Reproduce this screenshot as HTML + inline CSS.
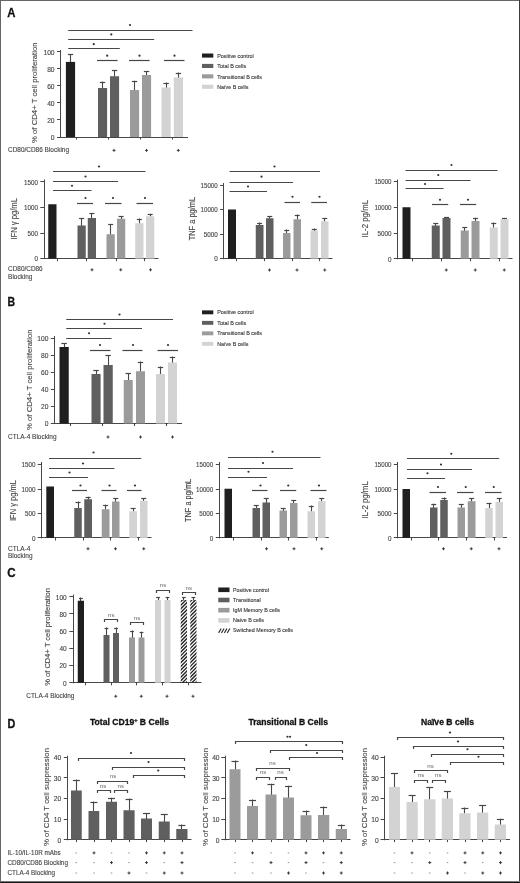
<!DOCTYPE html>
<html><head><meta charset="utf-8"><title>Figure</title>
<style>html,body{margin:0;padding:0;background:#fff}svg{display:block;filter:grayscale(1) blur(0.3px)}text{font-family:"Liberation Sans",sans-serif;stroke:#444;stroke-width:0.12px;paint-order:stroke}text.t{stroke:none}text.b{stroke:#111;stroke-width:0.3px}</style></head>
<body>
<svg width="520" height="883" viewBox="0 0 520 883" font-family="Liberation Sans, sans-serif">
<rect x="0" y="0" width="520" height="883" fill="#fff"/>
<text x="7.2" y="17.1" font-size="12.2" text-anchor="start" fill="#111" textLength="8.2" lengthAdjust="spacingAndGlyphs" font-weight="bold" class="b">A</text>
<line x1="60.5" y1="50" x2="60.5" y2="137.5" stroke="#474747" stroke-width="1" stroke-linecap="butt"/>
<line x1="60.25" y1="137.5" x2="188" y2="137.5" stroke="#474747" stroke-width="1" stroke-linecap="butt"/>
<line x1="57.05" y1="51.5" x2="60.75" y2="51.5" stroke="#474747" stroke-width="1" stroke-linecap="butt"/>
<text x="54.6" y="54.61" font-size="6.7" text-anchor="end" fill="#444444">100</text>
<line x1="57.05" y1="68.5" x2="60.75" y2="68.5" stroke="#474747" stroke-width="1" stroke-linecap="butt"/>
<text x="54.6" y="71.66" font-size="6.7" text-anchor="end" fill="#444444">80</text>
<line x1="57.05" y1="85.5" x2="60.75" y2="85.5" stroke="#474747" stroke-width="1" stroke-linecap="butt"/>
<text x="54.6" y="88.71" font-size="6.7" text-anchor="end" fill="#444444">60</text>
<line x1="57.05" y1="102.5" x2="60.75" y2="102.5" stroke="#474747" stroke-width="1" stroke-linecap="butt"/>
<text x="54.6" y="105.76" font-size="6.7" text-anchor="end" fill="#444444">40</text>
<line x1="57.05" y1="119.5" x2="60.75" y2="119.5" stroke="#474747" stroke-width="1" stroke-linecap="butt"/>
<text x="54.6" y="122.81" font-size="6.7" text-anchor="end" fill="#444444">20</text>
<line x1="57.05" y1="137.5" x2="60.75" y2="137.5" stroke="#474747" stroke-width="1" stroke-linecap="butt"/>
<text x="54.6" y="139.86" font-size="6.7" text-anchor="end" fill="#444444">0</text>
<line x1="76.5" y1="137" x2="76.5" y2="139.6" stroke="#474747" stroke-width="1" stroke-linecap="butt"/>
<line x1="108.5" y1="137" x2="108.5" y2="139.6" stroke="#474747" stroke-width="1" stroke-linecap="butt"/>
<line x1="140.5" y1="137" x2="140.5" y2="139.6" stroke="#474747" stroke-width="1" stroke-linecap="butt"/>
<line x1="172.5" y1="137" x2="172.5" y2="139.6" stroke="#474747" stroke-width="1" stroke-linecap="butt"/>
<line x1="70.5" y1="54.3" x2="70.5" y2="62.4" stroke="#474747" stroke-width="1.1" stroke-linecap="butt"/>
<line x1="67.8" y1="54.5" x2="73.2" y2="54.5" stroke="#474747" stroke-width="1.2" stroke-linecap="butt"/>
<rect x="65.9" y="61.9" width="9.2" height="75.1" fill="#1f1f1f"/>
<line x1="102.5" y1="81.5" x2="102.5" y2="88.5" stroke="#474747" stroke-width="1.1" stroke-linecap="butt"/>
<line x1="99.85" y1="82.5" x2="105.25" y2="82.5" stroke="#474747" stroke-width="1.2" stroke-linecap="butt"/>
<rect x="98" y="88" width="9.1" height="49" fill="#5f5f5f"/>
<line x1="114.5" y1="70" x2="114.5" y2="76.75" stroke="#474747" stroke-width="1.1" stroke-linecap="butt"/>
<line x1="111.85" y1="70.5" x2="117.25" y2="70.5" stroke="#474747" stroke-width="1.2" stroke-linecap="butt"/>
<rect x="110" y="76.25" width="9.1" height="60.75" fill="#5f5f5f"/>
<line x1="134.5" y1="80.75" x2="134.5" y2="90.5" stroke="#474747" stroke-width="1.1" stroke-linecap="butt"/>
<line x1="131.85" y1="81.5" x2="137.25" y2="81.5" stroke="#474747" stroke-width="1.2" stroke-linecap="butt"/>
<rect x="130" y="90" width="9.1" height="47" fill="#9b9b9b"/>
<line x1="146.5" y1="71.25" x2="146.5" y2="75.5" stroke="#474747" stroke-width="1.1" stroke-linecap="butt"/>
<line x1="143.85" y1="71.5" x2="149.25" y2="71.5" stroke="#474747" stroke-width="1.2" stroke-linecap="butt"/>
<rect x="142" y="75" width="9.1" height="62" fill="#9b9b9b"/>
<line x1="166.5" y1="82.5" x2="166.5" y2="88" stroke="#474747" stroke-width="1.1" stroke-linecap="butt"/>
<line x1="163.4" y1="83.5" x2="168.8" y2="83.5" stroke="#474747" stroke-width="1.2" stroke-linecap="butt"/>
<rect x="161.5" y="87.5" width="9.2" height="49.5" fill="#d3d3d3"/>
<line x1="178.5" y1="72.5" x2="178.5" y2="78" stroke="#474747" stroke-width="1.1" stroke-linecap="butt"/>
<line x1="175.7" y1="73.5" x2="181.1" y2="73.5" stroke="#474747" stroke-width="1.2" stroke-linecap="butt"/>
<rect x="173.8" y="77.5" width="9.2" height="59.5" fill="#d3d3d3"/>
<line x1="68.2" y1="30.5" x2="192.5" y2="30.5" stroke="#474747" stroke-width="1.2" stroke-linecap="butt"/>
<circle cx="130" cy="25" r="1.1" fill="#333"/>
<line x1="68.2" y1="39.5" x2="154.2" y2="39.5" stroke="#474747" stroke-width="1.2" stroke-linecap="butt"/>
<circle cx="111.3" cy="34.4" r="1.1" fill="#333"/>
<line x1="68.2" y1="48.5" x2="119.8" y2="48.5" stroke="#474747" stroke-width="1.2" stroke-linecap="butt"/>
<circle cx="93.8" cy="44.2" r="1.1" fill="#333"/>
<line x1="97" y1="60.5" x2="117.6" y2="60.5" stroke="#474747" stroke-width="1.2" stroke-linecap="butt"/>
<circle cx="107.2" cy="55.7" r="1.1" fill="#333"/>
<line x1="129" y1="60.5" x2="149.6" y2="60.5" stroke="#474747" stroke-width="1.2" stroke-linecap="butt"/>
<circle cx="139.5" cy="55.7" r="1.1" fill="#333"/>
<line x1="164" y1="60.5" x2="184.5" y2="60.5" stroke="#474747" stroke-width="1.2" stroke-linecap="butt"/>
<circle cx="174.5" cy="55.7" r="1.1" fill="#333"/>
<text transform="translate(37.3,92.7) rotate(-90)" font-size="7.8" text-anchor="middle" fill="#444444" textLength="100.5" lengthAdjust="spacingAndGlyphs">% of CD4+ T cell proliferation</text>
<text x="8" y="151.8" font-size="6.4" text-anchor="start" fill="#444444" textLength="61" lengthAdjust="spacingAndGlyphs">CD80/CD86 Blocking</text>
<line x1="112.5" y1="150.4" x2="115.5" y2="150.4" stroke="#333" stroke-width="0.94" stroke-linecap="butt"/>
<line x1="114" y1="148.9" x2="114" y2="151.9" stroke="#333" stroke-width="0.94" stroke-linecap="butt"/>
<line x1="145" y1="150.4" x2="148" y2="150.4" stroke="#333" stroke-width="0.94" stroke-linecap="butt"/>
<line x1="146.5" y1="148.9" x2="146.5" y2="151.9" stroke="#333" stroke-width="0.94" stroke-linecap="butt"/>
<line x1="176.8" y1="150.4" x2="179.8" y2="150.4" stroke="#333" stroke-width="0.94" stroke-linecap="butt"/>
<line x1="178.3" y1="148.9" x2="178.3" y2="151.9" stroke="#333" stroke-width="0.94" stroke-linecap="butt"/>
<rect x="202" y="53.5" width="11.3" height="4.1" fill="#1f1f1f"/>
<text x="217.2" y="57.7" font-size="5.7" text-anchor="start" fill="#333" textLength="36.6" lengthAdjust="spacingAndGlyphs">Positive control</text>
<rect x="202" y="63.9" width="11.3" height="4.1" fill="#5f5f5f"/>
<text x="217.2" y="68.1" font-size="5.7" text-anchor="start" fill="#333" textLength="29" lengthAdjust="spacingAndGlyphs">Total B cells</text>
<rect x="202" y="74.3" width="11.3" height="4.1" fill="#9b9b9b"/>
<text x="217.2" y="78.5" font-size="5.7" text-anchor="start" fill="#333" textLength="44.8" lengthAdjust="spacingAndGlyphs">Transitional B cells</text>
<rect x="202" y="84.7" width="11.3" height="4.1" fill="#d3d3d3"/>
<text x="217.2" y="88.9" font-size="5.7" text-anchor="start" fill="#333" textLength="31.2" lengthAdjust="spacingAndGlyphs">Naïve B cells</text>
<line x1="44.5" y1="179.5" x2="44.5" y2="259.1" stroke="#474747" stroke-width="1" stroke-linecap="butt"/>
<line x1="43.5" y1="258.5" x2="158.5" y2="258.5" stroke="#474747" stroke-width="1" stroke-linecap="butt"/>
<line x1="40.3" y1="181.5" x2="44" y2="181.5" stroke="#474747" stroke-width="1" stroke-linecap="butt"/>
<text x="38" y="184.58" font-size="6.6" text-anchor="end" fill="#444444" textLength="14" lengthAdjust="spacingAndGlyphs">1500</text>
<line x1="40.3" y1="207.5" x2="44" y2="207.5" stroke="#474747" stroke-width="1" stroke-linecap="butt"/>
<text x="38" y="210.23" font-size="6.6" text-anchor="end" fill="#444444" textLength="14" lengthAdjust="spacingAndGlyphs">1000</text>
<line x1="40.3" y1="233.5" x2="44" y2="233.5" stroke="#474747" stroke-width="1" stroke-linecap="butt"/>
<text x="38" y="235.83" font-size="6.6" text-anchor="end" fill="#444444" textLength="10.5" lengthAdjust="spacingAndGlyphs">500</text>
<line x1="40.3" y1="258.5" x2="44" y2="258.5" stroke="#474747" stroke-width="1" stroke-linecap="butt"/>
<text x="38" y="261.43" font-size="6.6" text-anchor="end" fill="#444444" textLength="3.5" lengthAdjust="spacingAndGlyphs">0</text>
<line x1="57.5" y1="258.6" x2="57.5" y2="261.2" stroke="#474747" stroke-width="1" stroke-linecap="butt"/>
<line x1="86.5" y1="258.6" x2="86.5" y2="261.2" stroke="#474747" stroke-width="1" stroke-linecap="butt"/>
<line x1="116.5" y1="258.6" x2="116.5" y2="261.2" stroke="#474747" stroke-width="1" stroke-linecap="butt"/>
<line x1="144.5" y1="258.6" x2="144.5" y2="261.2" stroke="#474747" stroke-width="1" stroke-linecap="butt"/>
<rect x="48.25" y="204.25" width="8.25" height="54.35" fill="#1f1f1f"/>
<line x1="81.5" y1="218.25" x2="81.5" y2="226" stroke="#474747" stroke-width="1.1" stroke-linecap="butt"/>
<line x1="79.12" y1="218.5" x2="84.12" y2="218.5" stroke="#474747" stroke-width="1.2" stroke-linecap="butt"/>
<rect x="77.5" y="225.5" width="8.25" height="33.1" fill="#5f5f5f"/>
<line x1="91.5" y1="213.25" x2="91.5" y2="218.5" stroke="#474747" stroke-width="1.1" stroke-linecap="butt"/>
<line x1="89.38" y1="213.5" x2="94.38" y2="213.5" stroke="#474747" stroke-width="1.2" stroke-linecap="butt"/>
<rect x="87.75" y="218" width="8.25" height="40.6" fill="#5f5f5f"/>
<line x1="110.5" y1="224" x2="110.5" y2="234.75" stroke="#474747" stroke-width="1.1" stroke-linecap="butt"/>
<line x1="108.12" y1="224.5" x2="113.12" y2="224.5" stroke="#474747" stroke-width="1.2" stroke-linecap="butt"/>
<rect x="106.5" y="234.25" width="8.25" height="24.35" fill="#9b9b9b"/>
<line x1="121.5" y1="216.25" x2="121.5" y2="219.25" stroke="#474747" stroke-width="1.1" stroke-linecap="butt"/>
<line x1="118.62" y1="216.5" x2="123.62" y2="216.5" stroke="#474747" stroke-width="1.2" stroke-linecap="butt"/>
<rect x="117" y="218.75" width="8.25" height="39.85" fill="#9b9b9b"/>
<line x1="139.5" y1="218.5" x2="139.5" y2="223.75" stroke="#474747" stroke-width="1.1" stroke-linecap="butt"/>
<line x1="136.85" y1="219.5" x2="141.85" y2="219.5" stroke="#474747" stroke-width="1.2" stroke-linecap="butt"/>
<rect x="135.2" y="223.25" width="8.3" height="35.35" fill="#d3d3d3"/>
<line x1="150.5" y1="213.75" x2="150.5" y2="216.75" stroke="#474747" stroke-width="1.1" stroke-linecap="butt"/>
<line x1="147.65" y1="214.5" x2="152.65" y2="214.5" stroke="#474747" stroke-width="1.2" stroke-linecap="butt"/>
<rect x="146" y="216.25" width="8.3" height="42.35" fill="#d3d3d3"/>
<text transform="translate(16.9,218.8) rotate(-90)" font-size="8.3" text-anchor="middle" fill="#444444" textLength="41.5" lengthAdjust="spacingAndGlyphs">IFN γ pg/mL</text>
<line x1="53" y1="171.5" x2="145.5" y2="171.5" stroke="#474747" stroke-width="1.2" stroke-linecap="butt"/>
<circle cx="99" cy="166.5" r="1.1" fill="#333"/>
<line x1="53" y1="181.5" x2="118" y2="181.5" stroke="#474747" stroke-width="1.2" stroke-linecap="butt"/>
<circle cx="85.5" cy="176.5" r="1.1" fill="#333"/>
<line x1="53" y1="190.5" x2="91.5" y2="190.5" stroke="#474747" stroke-width="1.2" stroke-linecap="butt"/>
<circle cx="72" cy="185.75" r="1.1" fill="#333"/>
<line x1="77" y1="203.5" x2="93" y2="203.5" stroke="#474747" stroke-width="1.2" stroke-linecap="butt"/>
<circle cx="85.5" cy="198" r="1.1" fill="#333"/>
<line x1="105" y1="203.5" x2="121.5" y2="203.5" stroke="#474747" stroke-width="1.2" stroke-linecap="butt"/>
<circle cx="113" cy="198" r="1.1" fill="#333"/>
<line x1="136.5" y1="203.5" x2="153" y2="203.5" stroke="#474747" stroke-width="1.2" stroke-linecap="butt"/>
<circle cx="145" cy="198" r="1.1" fill="#333"/>
<text x="8.1" y="271" font-size="6.5" text-anchor="start" fill="#444444" textLength="34.6" lengthAdjust="spacingAndGlyphs">CD80/CD86</text>
<text x="8.1" y="278.9" font-size="6.5" text-anchor="start" fill="#444444" textLength="24.3" lengthAdjust="spacingAndGlyphs">Blocking</text>
<line x1="90.5" y1="269.8" x2="93.5" y2="269.8" stroke="#333" stroke-width="0.94" stroke-linecap="butt"/>
<line x1="92" y1="268.3" x2="92" y2="271.3" stroke="#333" stroke-width="0.94" stroke-linecap="butt"/>
<line x1="119.25" y1="269.8" x2="122.25" y2="269.8" stroke="#333" stroke-width="0.94" stroke-linecap="butt"/>
<line x1="120.75" y1="268.3" x2="120.75" y2="271.3" stroke="#333" stroke-width="0.94" stroke-linecap="butt"/>
<line x1="149" y1="269.8" x2="152" y2="269.8" stroke="#333" stroke-width="0.94" stroke-linecap="butt"/>
<line x1="150.5" y1="268.3" x2="150.5" y2="271.3" stroke="#333" stroke-width="0.94" stroke-linecap="butt"/>
<line x1="223.5" y1="183" x2="223.5" y2="259.1" stroke="#474747" stroke-width="1" stroke-linecap="butt"/>
<line x1="223.25" y1="258.5" x2="332.5" y2="258.5" stroke="#474747" stroke-width="1" stroke-linecap="butt"/>
<line x1="220.05" y1="185.5" x2="223.75" y2="185.5" stroke="#474747" stroke-width="1" stroke-linecap="butt"/>
<text x="217.7" y="187.83" font-size="6.6" text-anchor="end" fill="#444444" textLength="17.1" lengthAdjust="spacingAndGlyphs">15000</text>
<line x1="220.05" y1="209.5" x2="223.75" y2="209.5" stroke="#474747" stroke-width="1" stroke-linecap="butt"/>
<text x="217.7" y="212.38" font-size="6.6" text-anchor="end" fill="#444444" textLength="17.1" lengthAdjust="spacingAndGlyphs">10000</text>
<line x1="220.05" y1="234.5" x2="223.75" y2="234.5" stroke="#474747" stroke-width="1" stroke-linecap="butt"/>
<text x="217.7" y="236.93" font-size="6.6" text-anchor="end" fill="#444444" textLength="14" lengthAdjust="spacingAndGlyphs">5000</text>
<line x1="220.05" y1="258.5" x2="223.75" y2="258.5" stroke="#474747" stroke-width="1" stroke-linecap="butt"/>
<text x="217.7" y="261.43" font-size="6.6" text-anchor="end" fill="#444444" textLength="3.5" lengthAdjust="spacingAndGlyphs">0</text>
<line x1="236.5" y1="258.6" x2="236.5" y2="261.2" stroke="#474747" stroke-width="1" stroke-linecap="butt"/>
<line x1="264.5" y1="258.6" x2="264.5" y2="261.2" stroke="#474747" stroke-width="1" stroke-linecap="butt"/>
<line x1="292.5" y1="258.6" x2="292.5" y2="261.2" stroke="#474747" stroke-width="1" stroke-linecap="butt"/>
<line x1="319.5" y1="258.6" x2="319.5" y2="261.2" stroke="#474747" stroke-width="1" stroke-linecap="butt"/>
<rect x="228" y="209.5" width="8" height="49.1" fill="#1f1f1f"/>
<line x1="259.5" y1="222.5" x2="259.5" y2="225.5" stroke="#474747" stroke-width="1.1" stroke-linecap="butt"/>
<line x1="257.12" y1="223.5" x2="262.12" y2="223.5" stroke="#474747" stroke-width="1.2" stroke-linecap="butt"/>
<rect x="255.75" y="225" width="7.75" height="33.6" fill="#5f5f5f"/>
<line x1="269.5" y1="216.25" x2="269.5" y2="218.75" stroke="#474747" stroke-width="1.1" stroke-linecap="butt"/>
<line x1="267.25" y1="216.5" x2="272.25" y2="216.5" stroke="#474747" stroke-width="1.2" stroke-linecap="butt"/>
<rect x="266" y="218.25" width="7.5" height="40.35" fill="#5f5f5f"/>
<line x1="286.5" y1="229.5" x2="286.5" y2="233.5" stroke="#474747" stroke-width="1.1" stroke-linecap="butt"/>
<line x1="284.25" y1="230.5" x2="289.25" y2="230.5" stroke="#474747" stroke-width="1.2" stroke-linecap="butt"/>
<rect x="283" y="233" width="7.5" height="25.6" fill="#9b9b9b"/>
<line x1="297.5" y1="214.5" x2="297.5" y2="219.75" stroke="#474747" stroke-width="1.1" stroke-linecap="butt"/>
<line x1="294.75" y1="215.5" x2="299.75" y2="215.5" stroke="#474747" stroke-width="1.2" stroke-linecap="butt"/>
<rect x="293.5" y="219.25" width="7.5" height="39.35" fill="#9b9b9b"/>
<line x1="314.5" y1="228.5" x2="314.5" y2="231.25" stroke="#474747" stroke-width="1.1" stroke-linecap="butt"/>
<line x1="311.75" y1="229.5" x2="316.75" y2="229.5" stroke="#474747" stroke-width="1.2" stroke-linecap="butt"/>
<rect x="310.5" y="230.75" width="7.5" height="27.85" fill="#d3d3d3"/>
<line x1="324.5" y1="218.25" x2="324.5" y2="221.75" stroke="#474747" stroke-width="1.1" stroke-linecap="butt"/>
<line x1="322.25" y1="218.5" x2="327.25" y2="218.5" stroke="#474747" stroke-width="1.2" stroke-linecap="butt"/>
<rect x="321" y="221.25" width="7.5" height="37.35" fill="#d3d3d3"/>
<text transform="translate(194.5,218.6) rotate(-90)" font-size="8.3" text-anchor="middle" fill="#444444" textLength="43.4" lengthAdjust="spacingAndGlyphs">TNF a pg/mL</text>
<line x1="229.5" y1="171.5" x2="320" y2="171.5" stroke="#474747" stroke-width="1.2" stroke-linecap="butt"/>
<circle cx="274.5" cy="166.5" r="1.1" fill="#333"/>
<line x1="229.5" y1="182.5" x2="293" y2="182.5" stroke="#474747" stroke-width="1.2" stroke-linecap="butt"/>
<circle cx="261.5" cy="176.7" r="1.1" fill="#333"/>
<line x1="229.5" y1="191.5" x2="267" y2="191.5" stroke="#474747" stroke-width="1.2" stroke-linecap="butt"/>
<circle cx="248" cy="186.5" r="1.1" fill="#333"/>
<line x1="284.5" y1="202.5" x2="300" y2="202.5" stroke="#474747" stroke-width="1.2" stroke-linecap="butt"/>
<circle cx="292.5" cy="196.75" r="1.1" fill="#333"/>
<line x1="311.25" y1="202.5" x2="327" y2="202.5" stroke="#474747" stroke-width="1.2" stroke-linecap="butt"/>
<circle cx="319.5" cy="196.75" r="1.1" fill="#333"/>
<line x1="268" y1="270" x2="271" y2="270" stroke="#333" stroke-width="0.94" stroke-linecap="butt"/>
<line x1="269.5" y1="268.5" x2="269.5" y2="271.5" stroke="#333" stroke-width="0.94" stroke-linecap="butt"/>
<line x1="295.5" y1="270" x2="298.5" y2="270" stroke="#333" stroke-width="0.94" stroke-linecap="butt"/>
<line x1="297" y1="268.5" x2="297" y2="271.5" stroke="#333" stroke-width="0.94" stroke-linecap="butt"/>
<line x1="323.25" y1="270" x2="326.25" y2="270" stroke="#333" stroke-width="0.94" stroke-linecap="butt"/>
<line x1="324.75" y1="268.5" x2="324.75" y2="271.5" stroke="#333" stroke-width="0.94" stroke-linecap="butt"/>
<line x1="397.5" y1="179.5" x2="397.5" y2="259.25" stroke="#474747" stroke-width="1" stroke-linecap="butt"/>
<line x1="397" y1="258.5" x2="512.5" y2="258.5" stroke="#474747" stroke-width="1" stroke-linecap="butt"/>
<line x1="393.8" y1="181.5" x2="397.5" y2="181.5" stroke="#474747" stroke-width="1" stroke-linecap="butt"/>
<text x="391.5" y="184.33" font-size="6.6" text-anchor="end" fill="#444444" textLength="17.1" lengthAdjust="spacingAndGlyphs">15000</text>
<line x1="393.8" y1="207.5" x2="397.5" y2="207.5" stroke="#474747" stroke-width="1" stroke-linecap="butt"/>
<text x="391.5" y="210.08" font-size="6.6" text-anchor="end" fill="#444444" textLength="17.1" lengthAdjust="spacingAndGlyphs">10000</text>
<line x1="393.8" y1="233.5" x2="397.5" y2="233.5" stroke="#474747" stroke-width="1" stroke-linecap="butt"/>
<text x="391.5" y="235.83" font-size="6.6" text-anchor="end" fill="#444444" textLength="14" lengthAdjust="spacingAndGlyphs">5000</text>
<line x1="393.8" y1="258.5" x2="397.5" y2="258.5" stroke="#474747" stroke-width="1" stroke-linecap="butt"/>
<text x="391.5" y="261.58" font-size="6.6" text-anchor="end" fill="#444444" textLength="3.5" lengthAdjust="spacingAndGlyphs">0</text>
<line x1="412.5" y1="258.75" x2="412.5" y2="261.35" stroke="#474747" stroke-width="1" stroke-linecap="butt"/>
<line x1="441.5" y1="258.75" x2="441.5" y2="261.35" stroke="#474747" stroke-width="1" stroke-linecap="butt"/>
<line x1="470.5" y1="258.75" x2="470.5" y2="261.35" stroke="#474747" stroke-width="1" stroke-linecap="butt"/>
<line x1="499.5" y1="258.75" x2="499.5" y2="261.35" stroke="#474747" stroke-width="1" stroke-linecap="butt"/>
<rect x="402.5" y="207.25" width="8" height="51.5" fill="#1f1f1f"/>
<line x1="435.5" y1="223" x2="435.5" y2="226" stroke="#474747" stroke-width="1.1" stroke-linecap="butt"/>
<line x1="433.25" y1="223.5" x2="438.25" y2="223.5" stroke="#474747" stroke-width="1.2" stroke-linecap="butt"/>
<rect x="431.75" y="225.5" width="8" height="33.25" fill="#5f5f5f"/>
<line x1="446.5" y1="217.3" x2="446.5" y2="218.5" stroke="#474747" stroke-width="1.1" stroke-linecap="butt"/>
<line x1="444" y1="217.5" x2="449" y2="217.5" stroke="#474747" stroke-width="1.2" stroke-linecap="butt"/>
<rect x="442.5" y="218" width="8" height="40.75" fill="#5f5f5f"/>
<line x1="464.5" y1="227.25" x2="464.5" y2="231" stroke="#474747" stroke-width="1.1" stroke-linecap="butt"/>
<line x1="462.25" y1="227.5" x2="467.25" y2="227.5" stroke="#474747" stroke-width="1.2" stroke-linecap="butt"/>
<rect x="460.75" y="230.5" width="8" height="28.25" fill="#9b9b9b"/>
<line x1="475.5" y1="217.75" x2="475.5" y2="221.5" stroke="#474747" stroke-width="1.1" stroke-linecap="butt"/>
<line x1="473" y1="218.5" x2="478" y2="218.5" stroke="#474747" stroke-width="1.2" stroke-linecap="butt"/>
<rect x="471.5" y="221" width="8" height="37.75" fill="#9b9b9b"/>
<line x1="493.5" y1="222.5" x2="493.5" y2="228" stroke="#474747" stroke-width="1.1" stroke-linecap="butt"/>
<line x1="491.25" y1="223.5" x2="496.25" y2="223.5" stroke="#474747" stroke-width="1.2" stroke-linecap="butt"/>
<rect x="489.75" y="227.5" width="8" height="31.25" fill="#d3d3d3"/>
<line x1="504.5" y1="218.25" x2="504.5" y2="219.75" stroke="#474747" stroke-width="1.1" stroke-linecap="butt"/>
<line x1="502" y1="218.5" x2="507" y2="218.5" stroke="#474747" stroke-width="1.2" stroke-linecap="butt"/>
<rect x="500.5" y="219.25" width="8" height="39.5" fill="#d3d3d3"/>
<text transform="translate(368,218.7) rotate(-90)" font-size="8.3" text-anchor="middle" fill="#444444" textLength="37.5" lengthAdjust="spacingAndGlyphs">IL-2 pg/mL</text>
<line x1="405.5" y1="170.5" x2="497.5" y2="170.5" stroke="#474747" stroke-width="1.2" stroke-linecap="butt"/>
<circle cx="451.5" cy="165" r="1.1" fill="#333"/>
<line x1="405.5" y1="180.5" x2="470.5" y2="180.5" stroke="#474747" stroke-width="1.2" stroke-linecap="butt"/>
<circle cx="438.25" cy="175" r="1.1" fill="#333"/>
<line x1="405.5" y1="188.5" x2="443.5" y2="188.5" stroke="#474747" stroke-width="1.2" stroke-linecap="butt"/>
<circle cx="425" cy="184" r="1.1" fill="#333"/>
<line x1="432" y1="204.5" x2="448.25" y2="204.5" stroke="#474747" stroke-width="1.2" stroke-linecap="butt"/>
<circle cx="440" cy="199.75" r="1.1" fill="#333"/>
<line x1="460" y1="204.5" x2="476.25" y2="204.5" stroke="#474747" stroke-width="1.2" stroke-linecap="butt"/>
<circle cx="468" cy="199.75" r="1.1" fill="#333"/>
<line x1="444.75" y1="270" x2="447.75" y2="270" stroke="#333" stroke-width="0.94" stroke-linecap="butt"/>
<line x1="446.25" y1="268.5" x2="446.25" y2="271.5" stroke="#333" stroke-width="0.94" stroke-linecap="butt"/>
<line x1="473.75" y1="270" x2="476.75" y2="270" stroke="#333" stroke-width="0.94" stroke-linecap="butt"/>
<line x1="475.25" y1="268.5" x2="475.25" y2="271.5" stroke="#333" stroke-width="0.94" stroke-linecap="butt"/>
<line x1="502.75" y1="270" x2="505.75" y2="270" stroke="#333" stroke-width="0.94" stroke-linecap="butt"/>
<line x1="504.25" y1="268.5" x2="504.25" y2="271.5" stroke="#333" stroke-width="0.94" stroke-linecap="butt"/>
<text x="7.6" y="306" font-size="12.2" text-anchor="start" fill="#111" textLength="7.6" lengthAdjust="spacingAndGlyphs" font-weight="bold" class="b">B</text>
<line x1="54.5" y1="336" x2="54.5" y2="424" stroke="#474747" stroke-width="1" stroke-linecap="butt"/>
<line x1="54" y1="423.5" x2="182" y2="423.5" stroke="#474747" stroke-width="1" stroke-linecap="butt"/>
<line x1="50.8" y1="338.5" x2="54.5" y2="338.5" stroke="#474747" stroke-width="1" stroke-linecap="butt"/>
<text x="48.5" y="340.86" font-size="6.7" text-anchor="end" fill="#444444">100</text>
<line x1="50.8" y1="355.5" x2="54.5" y2="355.5" stroke="#474747" stroke-width="1" stroke-linecap="butt"/>
<text x="48.5" y="357.96" font-size="6.7" text-anchor="end" fill="#444444">80</text>
<line x1="50.8" y1="372.5" x2="54.5" y2="372.5" stroke="#474747" stroke-width="1" stroke-linecap="butt"/>
<text x="48.5" y="375.06" font-size="6.7" text-anchor="end" fill="#444444">60</text>
<line x1="50.8" y1="389.5" x2="54.5" y2="389.5" stroke="#474747" stroke-width="1" stroke-linecap="butt"/>
<text x="48.5" y="392.16" font-size="6.7" text-anchor="end" fill="#444444">40</text>
<line x1="50.8" y1="406.5" x2="54.5" y2="406.5" stroke="#474747" stroke-width="1" stroke-linecap="butt"/>
<text x="48.5" y="409.26" font-size="6.7" text-anchor="end" fill="#444444">20</text>
<line x1="50.8" y1="423.5" x2="54.5" y2="423.5" stroke="#474747" stroke-width="1" stroke-linecap="butt"/>
<text x="48.5" y="426.36" font-size="6.7" text-anchor="end" fill="#444444">0</text>
<line x1="70.5" y1="423.5" x2="70.5" y2="426.1" stroke="#474747" stroke-width="1" stroke-linecap="butt"/>
<line x1="102.5" y1="423.5" x2="102.5" y2="426.1" stroke="#474747" stroke-width="1" stroke-linecap="butt"/>
<line x1="134.5" y1="423.5" x2="134.5" y2="426.1" stroke="#474747" stroke-width="1" stroke-linecap="butt"/>
<line x1="166.5" y1="423.5" x2="166.5" y2="426.1" stroke="#474747" stroke-width="1" stroke-linecap="butt"/>
<line x1="64.5" y1="343.25" x2="64.5" y2="347.5" stroke="#474747" stroke-width="1.1" stroke-linecap="butt"/>
<line x1="61.42" y1="343.5" x2="66.83" y2="343.5" stroke="#474747" stroke-width="1.2" stroke-linecap="butt"/>
<rect x="59.5" y="347" width="9.25" height="76.5" fill="#1f1f1f"/>
<line x1="96.5" y1="370.25" x2="96.5" y2="374.5" stroke="#474747" stroke-width="1.1" stroke-linecap="butt"/>
<line x1="93.35" y1="370.5" x2="98.75" y2="370.5" stroke="#474747" stroke-width="1.2" stroke-linecap="butt"/>
<rect x="91.5" y="374" width="9.1" height="49.5" fill="#5f5f5f"/>
<line x1="108.5" y1="355.25" x2="108.5" y2="365.5" stroke="#474747" stroke-width="1.1" stroke-linecap="butt"/>
<line x1="105.42" y1="355.5" x2="110.83" y2="355.5" stroke="#474747" stroke-width="1.2" stroke-linecap="butt"/>
<rect x="103.5" y="365" width="9.25" height="58.5" fill="#5f5f5f"/>
<line x1="128.5" y1="373.25" x2="128.5" y2="380.5" stroke="#474747" stroke-width="1.1" stroke-linecap="butt"/>
<line x1="125.55" y1="373.5" x2="130.95" y2="373.5" stroke="#474747" stroke-width="1.2" stroke-linecap="butt"/>
<rect x="123.75" y="380" width="9" height="43.5" fill="#9b9b9b"/>
<line x1="140.5" y1="361.5" x2="140.5" y2="371.75" stroke="#474747" stroke-width="1.1" stroke-linecap="butt"/>
<line x1="137.8" y1="362.5" x2="143.2" y2="362.5" stroke="#474747" stroke-width="1.2" stroke-linecap="butt"/>
<rect x="136" y="371.25" width="9" height="52.25" fill="#9b9b9b"/>
<line x1="160.5" y1="366.5" x2="160.5" y2="374.5" stroke="#474747" stroke-width="1.1" stroke-linecap="butt"/>
<line x1="157.8" y1="367.5" x2="163.2" y2="367.5" stroke="#474747" stroke-width="1.2" stroke-linecap="butt"/>
<rect x="156" y="374" width="9" height="49.5" fill="#d3d3d3"/>
<line x1="172.5" y1="356.5" x2="172.5" y2="363" stroke="#474747" stroke-width="1.1" stroke-linecap="butt"/>
<line x1="169.8" y1="357.5" x2="175.2" y2="357.5" stroke="#474747" stroke-width="1.2" stroke-linecap="butt"/>
<rect x="168" y="362.5" width="9" height="61" fill="#d3d3d3"/>
<line x1="66.25" y1="319.5" x2="173" y2="319.5" stroke="#474747" stroke-width="1.2" stroke-linecap="butt"/>
<circle cx="119.5" cy="314.5" r="1.1" fill="#333"/>
<line x1="66.25" y1="328.5" x2="142" y2="328.5" stroke="#474747" stroke-width="1.2" stroke-linecap="butt"/>
<circle cx="104.5" cy="323.75" r="1.1" fill="#333"/>
<line x1="66.25" y1="338.5" x2="111.5" y2="338.5" stroke="#474747" stroke-width="1.2" stroke-linecap="butt"/>
<circle cx="89" cy="333.25" r="1.1" fill="#333"/>
<line x1="90" y1="350.5" x2="110.5" y2="350.5" stroke="#474747" stroke-width="1.2" stroke-linecap="butt"/>
<circle cx="100" cy="345" r="1.1" fill="#333"/>
<line x1="122.5" y1="350.5" x2="142.5" y2="350.5" stroke="#474747" stroke-width="1.2" stroke-linecap="butt"/>
<circle cx="133" cy="345" r="1.1" fill="#333"/>
<line x1="157.5" y1="350.5" x2="178" y2="350.5" stroke="#474747" stroke-width="1.2" stroke-linecap="butt"/>
<circle cx="168" cy="345" r="1.1" fill="#333"/>
<text transform="translate(31.8,379.7) rotate(-90)" font-size="7.8" text-anchor="middle" fill="#444444" textLength="100.5" lengthAdjust="spacingAndGlyphs">% of CD4+ T cell proliferation</text>
<text x="8" y="438.6" font-size="6.4" text-anchor="start" fill="#444444" textLength="48.5" lengthAdjust="spacingAndGlyphs">CTLA-4 Blocking</text>
<line x1="106.5" y1="437" x2="109.5" y2="437" stroke="#333" stroke-width="0.94" stroke-linecap="butt"/>
<line x1="108" y1="435.5" x2="108" y2="438.5" stroke="#333" stroke-width="0.94" stroke-linecap="butt"/>
<line x1="139" y1="437" x2="142" y2="437" stroke="#333" stroke-width="0.94" stroke-linecap="butt"/>
<line x1="140.5" y1="435.5" x2="140.5" y2="438.5" stroke="#333" stroke-width="0.94" stroke-linecap="butt"/>
<line x1="171" y1="437" x2="174" y2="437" stroke="#333" stroke-width="0.94" stroke-linecap="butt"/>
<line x1="172.5" y1="435.5" x2="172.5" y2="438.5" stroke="#333" stroke-width="0.94" stroke-linecap="butt"/>
<rect x="202" y="310.4" width="11.3" height="3.9" fill="#1f1f1f"/>
<text x="217.2" y="314.4" font-size="5.7" text-anchor="start" fill="#333" textLength="36.6" lengthAdjust="spacingAndGlyphs">Positive control</text>
<rect x="202" y="320.9" width="11.3" height="3.9" fill="#5f5f5f"/>
<text x="217.2" y="324.9" font-size="5.7" text-anchor="start" fill="#333" textLength="29" lengthAdjust="spacingAndGlyphs">Total B cells</text>
<rect x="202" y="331.4" width="11.3" height="3.9" fill="#9b9b9b"/>
<text x="217.2" y="335.4" font-size="5.7" text-anchor="start" fill="#333" textLength="44.8" lengthAdjust="spacingAndGlyphs">Transitional B cells</text>
<rect x="202" y="341.9" width="11.3" height="3.9" fill="#d3d3d3"/>
<text x="217.2" y="345.9" font-size="5.7" text-anchor="start" fill="#333" textLength="31.2" lengthAdjust="spacingAndGlyphs">Naïve B cells</text>
<line x1="41.5" y1="462" x2="41.5" y2="538.4" stroke="#474747" stroke-width="1" stroke-linecap="butt"/>
<line x1="40.9" y1="537.5" x2="151.5" y2="537.5" stroke="#474747" stroke-width="1" stroke-linecap="butt"/>
<line x1="37.7" y1="464.5" x2="41.4" y2="464.5" stroke="#474747" stroke-width="1" stroke-linecap="butt"/>
<text x="35.6" y="467.33" font-size="6.6" text-anchor="end" fill="#444444" textLength="14" lengthAdjust="spacingAndGlyphs">1500</text>
<line x1="37.7" y1="489.5" x2="41.4" y2="489.5" stroke="#474747" stroke-width="1" stroke-linecap="butt"/>
<text x="35.6" y="491.83" font-size="6.6" text-anchor="end" fill="#444444" textLength="14" lengthAdjust="spacingAndGlyphs">1000</text>
<line x1="37.7" y1="513.5" x2="41.4" y2="513.5" stroke="#474747" stroke-width="1" stroke-linecap="butt"/>
<text x="35.6" y="516.33" font-size="6.6" text-anchor="end" fill="#444444" textLength="10.5" lengthAdjust="spacingAndGlyphs">500</text>
<line x1="37.7" y1="537.5" x2="41.4" y2="537.5" stroke="#474747" stroke-width="1" stroke-linecap="butt"/>
<text x="35.6" y="540.73" font-size="6.6" text-anchor="end" fill="#444444" textLength="3.5" lengthAdjust="spacingAndGlyphs">0</text>
<line x1="55.5" y1="537.9" x2="55.5" y2="540.5" stroke="#474747" stroke-width="1" stroke-linecap="butt"/>
<line x1="83.5" y1="537.9" x2="83.5" y2="540.5" stroke="#474747" stroke-width="1" stroke-linecap="butt"/>
<line x1="110.5" y1="537.9" x2="110.5" y2="540.5" stroke="#474747" stroke-width="1" stroke-linecap="butt"/>
<line x1="138.5" y1="537.9" x2="138.5" y2="540.5" stroke="#474747" stroke-width="1" stroke-linecap="butt"/>
<rect x="46.3" y="486.5" width="7.7" height="51.4" fill="#1f1f1f"/>
<line x1="78.5" y1="501.5" x2="78.5" y2="508.5" stroke="#474747" stroke-width="1.1" stroke-linecap="butt"/>
<line x1="75.5" y1="502.5" x2="80.5" y2="502.5" stroke="#474747" stroke-width="1.2" stroke-linecap="butt"/>
<rect x="74.25" y="508" width="7.5" height="29.9" fill="#5f5f5f"/>
<line x1="88.5" y1="496.75" x2="88.5" y2="499.75" stroke="#474747" stroke-width="1.1" stroke-linecap="butt"/>
<line x1="85.62" y1="497.5" x2="90.62" y2="497.5" stroke="#474747" stroke-width="1.2" stroke-linecap="butt"/>
<rect x="84.25" y="499.25" width="7.75" height="38.65" fill="#5f5f5f"/>
<line x1="105.5" y1="504.75" x2="105.5" y2="509.75" stroke="#474747" stroke-width="1.1" stroke-linecap="butt"/>
<line x1="103.12" y1="505.5" x2="108.12" y2="505.5" stroke="#474747" stroke-width="1.2" stroke-linecap="butt"/>
<rect x="101.75" y="509.25" width="7.75" height="28.65" fill="#9b9b9b"/>
<line x1="115.5" y1="498.25" x2="115.5" y2="502" stroke="#474747" stroke-width="1.1" stroke-linecap="butt"/>
<line x1="113.25" y1="498.5" x2="118.25" y2="498.5" stroke="#474747" stroke-width="1.2" stroke-linecap="butt"/>
<rect x="112" y="501.5" width="7.5" height="36.4" fill="#9b9b9b"/>
<line x1="133.5" y1="508" x2="133.5" y2="511.75" stroke="#474747" stroke-width="1.1" stroke-linecap="butt"/>
<line x1="130.62" y1="508.5" x2="135.62" y2="508.5" stroke="#474747" stroke-width="1.2" stroke-linecap="butt"/>
<rect x="129.25" y="511.25" width="7.75" height="26.65" fill="#d3d3d3"/>
<line x1="143.5" y1="498.25" x2="143.5" y2="501.25" stroke="#474747" stroke-width="1.1" stroke-linecap="butt"/>
<line x1="141.25" y1="498.5" x2="146.25" y2="498.5" stroke="#474747" stroke-width="1.2" stroke-linecap="butt"/>
<rect x="140" y="500.75" width="7.5" height="37.15" fill="#d3d3d3"/>
<text transform="translate(16.25,500.5) rotate(-90)" font-size="8.3" text-anchor="middle" fill="#444444" textLength="41" lengthAdjust="spacingAndGlyphs">IFN γ pg/mL</text>
<line x1="49" y1="458.5" x2="141.25" y2="458.5" stroke="#474747" stroke-width="1.2" stroke-linecap="butt"/>
<circle cx="93.5" cy="452.5" r="1.1" fill="#333"/>
<line x1="49" y1="468.5" x2="114.5" y2="468.5" stroke="#474747" stroke-width="1.2" stroke-linecap="butt"/>
<circle cx="83" cy="463.5" r="1.1" fill="#333"/>
<line x1="49" y1="477.5" x2="88" y2="477.5" stroke="#474747" stroke-width="1.2" stroke-linecap="butt"/>
<circle cx="69.5" cy="472.5" r="1.1" fill="#333"/>
<line x1="72" y1="490.5" x2="87" y2="490.5" stroke="#474747" stroke-width="1.2" stroke-linecap="butt"/>
<circle cx="80.5" cy="485.5" r="1.1" fill="#333"/>
<line x1="101.5" y1="490.5" x2="116.5" y2="490.5" stroke="#474747" stroke-width="1.2" stroke-linecap="butt"/>
<circle cx="109.5" cy="485.5" r="1.1" fill="#333"/>
<line x1="127" y1="490.5" x2="141.5" y2="490.5" stroke="#474747" stroke-width="1.2" stroke-linecap="butt"/>
<circle cx="135" cy="485.5" r="1.1" fill="#333"/>
<text x="8" y="550.6" font-size="6.6" text-anchor="start" fill="#444444" textLength="22.5" lengthAdjust="spacingAndGlyphs">CTLA-4</text>
<text x="8" y="558.3" font-size="6.6" text-anchor="start" fill="#444444" textLength="24.5" lengthAdjust="spacingAndGlyphs">Blocking</text>
<line x1="86.5" y1="548.75" x2="89.5" y2="548.75" stroke="#333" stroke-width="0.94" stroke-linecap="butt"/>
<line x1="88" y1="547.25" x2="88" y2="550.25" stroke="#333" stroke-width="0.94" stroke-linecap="butt"/>
<line x1="114" y1="548.75" x2="117" y2="548.75" stroke="#333" stroke-width="0.94" stroke-linecap="butt"/>
<line x1="115.5" y1="547.25" x2="115.5" y2="550.25" stroke="#333" stroke-width="0.94" stroke-linecap="butt"/>
<line x1="142.25" y1="548.75" x2="145.25" y2="548.75" stroke="#333" stroke-width="0.94" stroke-linecap="butt"/>
<line x1="143.75" y1="547.25" x2="143.75" y2="550.25" stroke="#333" stroke-width="0.94" stroke-linecap="butt"/>
<line x1="219.5" y1="462" x2="219.5" y2="538.4" stroke="#474747" stroke-width="1" stroke-linecap="butt"/>
<line x1="219" y1="537.5" x2="328.75" y2="537.5" stroke="#474747" stroke-width="1" stroke-linecap="butt"/>
<line x1="215.8" y1="464.5" x2="219.5" y2="464.5" stroke="#474747" stroke-width="1" stroke-linecap="butt"/>
<text x="213.2" y="467.33" font-size="6.6" text-anchor="end" fill="#444444" textLength="17.1" lengthAdjust="spacingAndGlyphs">15000</text>
<line x1="215.8" y1="489.5" x2="219.5" y2="489.5" stroke="#474747" stroke-width="1" stroke-linecap="butt"/>
<text x="213.2" y="491.83" font-size="6.6" text-anchor="end" fill="#444444" textLength="17.1" lengthAdjust="spacingAndGlyphs">10000</text>
<line x1="215.8" y1="513.5" x2="219.5" y2="513.5" stroke="#474747" stroke-width="1" stroke-linecap="butt"/>
<text x="213.2" y="516.33" font-size="6.6" text-anchor="end" fill="#444444" textLength="14" lengthAdjust="spacingAndGlyphs">5000</text>
<line x1="215.8" y1="537.5" x2="219.5" y2="537.5" stroke="#474747" stroke-width="1" stroke-linecap="butt"/>
<text x="213.2" y="540.73" font-size="6.6" text-anchor="end" fill="#444444" textLength="3.5" lengthAdjust="spacingAndGlyphs">0</text>
<line x1="233.5" y1="537.9" x2="233.5" y2="540.5" stroke="#474747" stroke-width="1" stroke-linecap="butt"/>
<line x1="261.5" y1="537.9" x2="261.5" y2="540.5" stroke="#474747" stroke-width="1" stroke-linecap="butt"/>
<line x1="288.5" y1="537.9" x2="288.5" y2="540.5" stroke="#474747" stroke-width="1" stroke-linecap="butt"/>
<line x1="316.5" y1="537.9" x2="316.5" y2="540.5" stroke="#474747" stroke-width="1" stroke-linecap="butt"/>
<rect x="224.5" y="488.75" width="7.5" height="49.15" fill="#1f1f1f"/>
<line x1="256.5" y1="505" x2="256.5" y2="508.5" stroke="#474747" stroke-width="1.1" stroke-linecap="butt"/>
<line x1="253.75" y1="505.5" x2="258.75" y2="505.5" stroke="#474747" stroke-width="1.2" stroke-linecap="butt"/>
<rect x="252.5" y="508" width="7.5" height="29.9" fill="#5f5f5f"/>
<line x1="266.5" y1="498" x2="266.5" y2="503" stroke="#474747" stroke-width="1.1" stroke-linecap="butt"/>
<line x1="263.75" y1="498.5" x2="268.75" y2="498.5" stroke="#474747" stroke-width="1.2" stroke-linecap="butt"/>
<rect x="262.5" y="502.5" width="7.5" height="35.4" fill="#5f5f5f"/>
<line x1="283.5" y1="508" x2="283.5" y2="511" stroke="#474747" stroke-width="1.1" stroke-linecap="butt"/>
<line x1="280.75" y1="508.5" x2="285.75" y2="508.5" stroke="#474747" stroke-width="1.2" stroke-linecap="butt"/>
<rect x="279.5" y="510.5" width="7.5" height="27.4" fill="#9b9b9b"/>
<line x1="293.5" y1="500" x2="293.5" y2="503.5" stroke="#474747" stroke-width="1.1" stroke-linecap="butt"/>
<line x1="291.25" y1="500.5" x2="296.25" y2="500.5" stroke="#474747" stroke-width="1.2" stroke-linecap="butt"/>
<rect x="290" y="503" width="7.5" height="34.9" fill="#9b9b9b"/>
<line x1="311.5" y1="505.5" x2="311.5" y2="511.75" stroke="#474747" stroke-width="1.1" stroke-linecap="butt"/>
<line x1="308.75" y1="506.5" x2="313.75" y2="506.5" stroke="#474747" stroke-width="1.2" stroke-linecap="butt"/>
<rect x="307.5" y="511.25" width="7.5" height="26.65" fill="#d3d3d3"/>
<line x1="321.5" y1="498.25" x2="321.5" y2="501.75" stroke="#474747" stroke-width="1.1" stroke-linecap="butt"/>
<line x1="319.25" y1="498.5" x2="324.25" y2="498.5" stroke="#474747" stroke-width="1.2" stroke-linecap="butt"/>
<rect x="318" y="501.25" width="7.5" height="36.65" fill="#d3d3d3"/>
<text transform="translate(190.5,500.4) rotate(-90)" font-size="8.3" text-anchor="middle" fill="#444444" textLength="43.2" lengthAdjust="spacingAndGlyphs">TNF a pg/mL</text>
<line x1="228" y1="457.5" x2="320.5" y2="457.5" stroke="#474747" stroke-width="1.2" stroke-linecap="butt"/>
<circle cx="272.5" cy="451.75" r="1.1" fill="#333"/>
<line x1="228" y1="468.5" x2="293" y2="468.5" stroke="#474747" stroke-width="1.2" stroke-linecap="butt"/>
<circle cx="263" cy="463" r="1.1" fill="#333"/>
<line x1="228" y1="477.5" x2="267" y2="477.5" stroke="#474747" stroke-width="1.2" stroke-linecap="butt"/>
<circle cx="248.5" cy="471.75" r="1.1" fill="#333"/>
<line x1="252" y1="490.5" x2="267.5" y2="490.5" stroke="#474747" stroke-width="1.2" stroke-linecap="butt"/>
<circle cx="260.5" cy="485.5" r="1.1" fill="#333"/>
<line x1="280" y1="490.5" x2="296.25" y2="490.5" stroke="#474747" stroke-width="1.2" stroke-linecap="butt"/>
<circle cx="288.25" cy="485.5" r="1.1" fill="#333"/>
<line x1="310.5" y1="490.5" x2="326.5" y2="490.5" stroke="#474747" stroke-width="1.2" stroke-linecap="butt"/>
<circle cx="319" cy="485.5" r="1.1" fill="#333"/>
<line x1="265" y1="548.75" x2="268" y2="548.75" stroke="#333" stroke-width="0.94" stroke-linecap="butt"/>
<line x1="266.5" y1="547.25" x2="266.5" y2="550.25" stroke="#333" stroke-width="0.94" stroke-linecap="butt"/>
<line x1="292.5" y1="548.75" x2="295.5" y2="548.75" stroke="#333" stroke-width="0.94" stroke-linecap="butt"/>
<line x1="294" y1="547.25" x2="294" y2="550.25" stroke="#333" stroke-width="0.94" stroke-linecap="butt"/>
<line x1="320.25" y1="548.75" x2="323.25" y2="548.75" stroke="#333" stroke-width="0.94" stroke-linecap="butt"/>
<line x1="321.75" y1="547.25" x2="321.75" y2="550.25" stroke="#333" stroke-width="0.94" stroke-linecap="butt"/>
<line x1="397.5" y1="462" x2="397.5" y2="538.4" stroke="#474747" stroke-width="1" stroke-linecap="butt"/>
<line x1="397" y1="537.5" x2="507" y2="537.5" stroke="#474747" stroke-width="1" stroke-linecap="butt"/>
<line x1="393.8" y1="464.5" x2="397.5" y2="464.5" stroke="#474747" stroke-width="1" stroke-linecap="butt"/>
<text x="391.5" y="467.08" font-size="6.6" text-anchor="end" fill="#444444" textLength="17.1" lengthAdjust="spacingAndGlyphs">15000</text>
<line x1="393.8" y1="489.5" x2="397.5" y2="489.5" stroke="#474747" stroke-width="1" stroke-linecap="butt"/>
<text x="391.5" y="491.83" font-size="6.6" text-anchor="end" fill="#444444" textLength="17.1" lengthAdjust="spacingAndGlyphs">10000</text>
<line x1="393.8" y1="513.5" x2="397.5" y2="513.5" stroke="#474747" stroke-width="1" stroke-linecap="butt"/>
<text x="391.5" y="516.33" font-size="6.6" text-anchor="end" fill="#444444" textLength="14" lengthAdjust="spacingAndGlyphs">5000</text>
<line x1="393.8" y1="537.5" x2="397.5" y2="537.5" stroke="#474747" stroke-width="1" stroke-linecap="butt"/>
<text x="391.5" y="540.73" font-size="6.6" text-anchor="end" fill="#444444" textLength="3.5" lengthAdjust="spacingAndGlyphs">0</text>
<line x1="411.5" y1="537.9" x2="411.5" y2="540.5" stroke="#474747" stroke-width="1" stroke-linecap="butt"/>
<line x1="438.5" y1="537.9" x2="438.5" y2="540.5" stroke="#474747" stroke-width="1" stroke-linecap="butt"/>
<line x1="466.5" y1="537.9" x2="466.5" y2="540.5" stroke="#474747" stroke-width="1" stroke-linecap="butt"/>
<line x1="494.5" y1="537.9" x2="494.5" y2="540.5" stroke="#474747" stroke-width="1" stroke-linecap="butt"/>
<rect x="402.5" y="489" width="7.5" height="48.9" fill="#1f1f1f"/>
<line x1="433.5" y1="503.75" x2="433.5" y2="508" stroke="#474747" stroke-width="1.1" stroke-linecap="butt"/>
<line x1="431.25" y1="504.5" x2="436.25" y2="504.5" stroke="#474747" stroke-width="1.2" stroke-linecap="butt"/>
<rect x="430" y="507.5" width="7.5" height="30.4" fill="#5f5f5f"/>
<line x1="444.5" y1="497.5" x2="444.5" y2="500.5" stroke="#474747" stroke-width="1.1" stroke-linecap="butt"/>
<line x1="441.5" y1="498.5" x2="446.5" y2="498.5" stroke="#474747" stroke-width="1.2" stroke-linecap="butt"/>
<rect x="440.25" y="500" width="7.5" height="37.9" fill="#5f5f5f"/>
<line x1="461.5" y1="504.25" x2="461.5" y2="508" stroke="#474747" stroke-width="1.1" stroke-linecap="butt"/>
<line x1="458.75" y1="504.5" x2="463.75" y2="504.5" stroke="#474747" stroke-width="1.2" stroke-linecap="butt"/>
<rect x="457.5" y="507.5" width="7.5" height="30.4" fill="#9b9b9b"/>
<line x1="471.5" y1="498.25" x2="471.5" y2="501.75" stroke="#474747" stroke-width="1.1" stroke-linecap="butt"/>
<line x1="469.12" y1="498.5" x2="474.12" y2="498.5" stroke="#474747" stroke-width="1.2" stroke-linecap="butt"/>
<rect x="467.75" y="501.25" width="7.75" height="36.65" fill="#9b9b9b"/>
<line x1="489.5" y1="503" x2="489.5" y2="508.5" stroke="#474747" stroke-width="1.1" stroke-linecap="butt"/>
<line x1="486.5" y1="503.5" x2="491.5" y2="503.5" stroke="#474747" stroke-width="1.2" stroke-linecap="butt"/>
<rect x="485.25" y="508" width="7.5" height="29.9" fill="#d3d3d3"/>
<line x1="499.5" y1="498.25" x2="499.5" y2="502.5" stroke="#474747" stroke-width="1.1" stroke-linecap="butt"/>
<line x1="496.75" y1="498.5" x2="501.75" y2="498.5" stroke="#474747" stroke-width="1.2" stroke-linecap="butt"/>
<rect x="495.5" y="502" width="7.5" height="35.9" fill="#d3d3d3"/>
<text transform="translate(368,500) rotate(-90)" font-size="8.3" text-anchor="middle" fill="#444444" textLength="37.5" lengthAdjust="spacingAndGlyphs">IL-2 pg/mL</text>
<line x1="407" y1="458.5" x2="499.25" y2="458.5" stroke="#474747" stroke-width="1.2" stroke-linecap="butt"/>
<circle cx="451.25" cy="453.75" r="1.1" fill="#333"/>
<line x1="407" y1="469.5" x2="472" y2="469.5" stroke="#474747" stroke-width="1.2" stroke-linecap="butt"/>
<circle cx="441" cy="464.5" r="1.1" fill="#333"/>
<line x1="407" y1="478.5" x2="445" y2="478.5" stroke="#474747" stroke-width="1.2" stroke-linecap="butt"/>
<circle cx="427.5" cy="473.25" r="1.1" fill="#333"/>
<line x1="429.5" y1="492.5" x2="446" y2="492.5" stroke="#474747" stroke-width="1.2" stroke-linecap="butt"/>
<circle cx="438" cy="487" r="1.1" fill="#333"/>
<line x1="457" y1="492.5" x2="473.5" y2="492.5" stroke="#474747" stroke-width="1.2" stroke-linecap="butt"/>
<circle cx="465.75" cy="487" r="1.1" fill="#333"/>
<line x1="485" y1="492.5" x2="501.5" y2="492.5" stroke="#474747" stroke-width="1.2" stroke-linecap="butt"/>
<circle cx="493.75" cy="487" r="1.1" fill="#333"/>
<line x1="442" y1="548.75" x2="445" y2="548.75" stroke="#333" stroke-width="0.94" stroke-linecap="butt"/>
<line x1="443.5" y1="547.25" x2="443.5" y2="550.25" stroke="#333" stroke-width="0.94" stroke-linecap="butt"/>
<line x1="469.75" y1="548.75" x2="472.75" y2="548.75" stroke="#333" stroke-width="0.94" stroke-linecap="butt"/>
<line x1="471.25" y1="547.25" x2="471.25" y2="550.25" stroke="#333" stroke-width="0.94" stroke-linecap="butt"/>
<line x1="497.5" y1="548.75" x2="500.5" y2="548.75" stroke="#333" stroke-width="0.94" stroke-linecap="butt"/>
<line x1="499" y1="547.25" x2="499" y2="550.25" stroke="#333" stroke-width="0.94" stroke-linecap="butt"/>
<text x="7.3" y="577.1" font-size="12.2" text-anchor="start" fill="#111" textLength="8.4" lengthAdjust="spacingAndGlyphs" font-weight="bold" class="b">C</text>
<line x1="73.5" y1="594.5" x2="73.5" y2="683.25" stroke="#474747" stroke-width="1" stroke-linecap="butt"/>
<line x1="72.5" y1="682.5" x2="201.5" y2="682.5" stroke="#474747" stroke-width="1" stroke-linecap="butt"/>
<line x1="69.3" y1="596.5" x2="73" y2="596.5" stroke="#474747" stroke-width="1" stroke-linecap="butt"/>
<text x="66.7" y="599.54" font-size="6.5" text-anchor="end" fill="#444444">100</text>
<line x1="69.3" y1="613.5" x2="73" y2="613.5" stroke="#474747" stroke-width="1" stroke-linecap="butt"/>
<text x="66.7" y="616.74" font-size="6.5" text-anchor="end" fill="#444444">80</text>
<line x1="69.3" y1="631.5" x2="73" y2="631.5" stroke="#474747" stroke-width="1" stroke-linecap="butt"/>
<text x="66.7" y="633.94" font-size="6.5" text-anchor="end" fill="#444444">60</text>
<line x1="69.3" y1="648.5" x2="73" y2="648.5" stroke="#474747" stroke-width="1" stroke-linecap="butt"/>
<text x="66.7" y="651.14" font-size="6.5" text-anchor="end" fill="#444444">40</text>
<line x1="69.3" y1="665.5" x2="73" y2="665.5" stroke="#474747" stroke-width="1" stroke-linecap="butt"/>
<text x="66.7" y="668.34" font-size="6.5" text-anchor="end" fill="#444444">20</text>
<line x1="69.3" y1="682.5" x2="73" y2="682.5" stroke="#474747" stroke-width="1" stroke-linecap="butt"/>
<text x="66.7" y="685.54" font-size="6.5" text-anchor="end" fill="#444444">0</text>
<line x1="85.5" y1="682.75" x2="85.5" y2="685.35" stroke="#474747" stroke-width="1" stroke-linecap="butt"/>
<line x1="111.5" y1="682.75" x2="111.5" y2="685.35" stroke="#474747" stroke-width="1" stroke-linecap="butt"/>
<line x1="136.5" y1="682.75" x2="136.5" y2="685.35" stroke="#474747" stroke-width="1" stroke-linecap="butt"/>
<line x1="162.5" y1="682.75" x2="162.5" y2="685.35" stroke="#474747" stroke-width="1" stroke-linecap="butt"/>
<line x1="188.5" y1="682.75" x2="188.5" y2="685.35" stroke="#474747" stroke-width="1" stroke-linecap="butt"/>
<defs><pattern id="hat" width="2.6" height="2.6" patternUnits="userSpaceOnUse" patternTransform="rotate(-45)"><rect width="2.6" height="2.6" fill="#fff"/><rect width="2.6" height="1.4" fill="#222"/></pattern></defs>
<line x1="80.5" y1="597.5" x2="80.5" y2="601.25" stroke="#474747" stroke-width="1.1" stroke-linecap="butt"/>
<line x1="78.97" y1="598.5" x2="82.78" y2="598.5" stroke="#474747" stroke-width="1.2" stroke-linecap="butt"/>
<rect x="77.75" y="600.75" width="6.25" height="82" fill="#1f1f1f"/>
<line x1="106.5" y1="627.5" x2="106.5" y2="635.5" stroke="#474747" stroke-width="1.1" stroke-linecap="butt"/>
<line x1="104.6" y1="628.5" x2="108.4" y2="628.5" stroke="#474747" stroke-width="1.2" stroke-linecap="butt"/>
<rect x="103.5" y="635" width="6" height="47.75" fill="#5f5f5f"/>
<line x1="116.5" y1="627.5" x2="116.5" y2="633.5" stroke="#474747" stroke-width="1.1" stroke-linecap="butt"/>
<line x1="114.1" y1="628.5" x2="117.9" y2="628.5" stroke="#474747" stroke-width="1.2" stroke-linecap="butt"/>
<rect x="113" y="633" width="6" height="49.75" fill="#5f5f5f"/>
<line x1="132.5" y1="630.5" x2="132.5" y2="638" stroke="#474747" stroke-width="1.1" stroke-linecap="butt"/>
<line x1="130.1" y1="631.5" x2="133.9" y2="631.5" stroke="#474747" stroke-width="1.2" stroke-linecap="butt"/>
<rect x="129" y="637.5" width="6" height="45.25" fill="#9b9b9b"/>
<line x1="141.5" y1="631.75" x2="141.5" y2="638" stroke="#474747" stroke-width="1.1" stroke-linecap="butt"/>
<line x1="139.6" y1="632.5" x2="143.4" y2="632.5" stroke="#474747" stroke-width="1.2" stroke-linecap="butt"/>
<rect x="138.5" y="637.5" width="6" height="45.25" fill="#9b9b9b"/>
<line x1="158.5" y1="597" x2="158.5" y2="600.5" stroke="#474747" stroke-width="1.1" stroke-linecap="butt"/>
<line x1="156.1" y1="597.5" x2="159.9" y2="597.5" stroke="#474747" stroke-width="1.2" stroke-linecap="butt"/>
<rect x="155" y="600" width="6" height="82.75" fill="#d3d3d3"/>
<line x1="167.5" y1="597" x2="167.5" y2="600.5" stroke="#474747" stroke-width="1.1" stroke-linecap="butt"/>
<line x1="165.6" y1="597.5" x2="169.4" y2="597.5" stroke="#474747" stroke-width="1.2" stroke-linecap="butt"/>
<rect x="164.5" y="600" width="6" height="82.75" fill="#d3d3d3"/>
<line x1="183.5" y1="597" x2="183.5" y2="600.5" stroke="#474747" stroke-width="1.1" stroke-linecap="butt"/>
<line x1="181.97" y1="597.5" x2="185.78" y2="597.5" stroke="#474747" stroke-width="1.2" stroke-linecap="butt"/>
<clipPath id="hc1"><rect x="180.75" y="600" width="6.25" height="82.75"/></clipPath>
<g clip-path="url(#hc1)" stroke="#222" stroke-width="1.35">
<line x1="179.75" y1="599" x2="188" y2="590.75"/>
<line x1="179.75" y1="602.6" x2="188" y2="594.35"/>
<line x1="179.75" y1="606.2" x2="188" y2="597.95"/>
<line x1="179.75" y1="609.8" x2="188" y2="601.55"/>
<line x1="179.75" y1="613.4" x2="188" y2="605.15"/>
<line x1="179.75" y1="617" x2="188" y2="608.75"/>
<line x1="179.75" y1="620.6" x2="188" y2="612.35"/>
<line x1="179.75" y1="624.2" x2="188" y2="615.95"/>
<line x1="179.75" y1="627.8" x2="188" y2="619.55"/>
<line x1="179.75" y1="631.4" x2="188" y2="623.15"/>
<line x1="179.75" y1="635" x2="188" y2="626.75"/>
<line x1="179.75" y1="638.6" x2="188" y2="630.35"/>
<line x1="179.75" y1="642.2" x2="188" y2="633.95"/>
<line x1="179.75" y1="645.8" x2="188" y2="637.55"/>
<line x1="179.75" y1="649.4" x2="188" y2="641.15"/>
<line x1="179.75" y1="653" x2="188" y2="644.75"/>
<line x1="179.75" y1="656.6" x2="188" y2="648.35"/>
<line x1="179.75" y1="660.2" x2="188" y2="651.95"/>
<line x1="179.75" y1="663.8" x2="188" y2="655.55"/>
<line x1="179.75" y1="667.4" x2="188" y2="659.15"/>
<line x1="179.75" y1="671" x2="188" y2="662.75"/>
<line x1="179.75" y1="674.6" x2="188" y2="666.35"/>
<line x1="179.75" y1="678.2" x2="188" y2="669.95"/>
<line x1="179.75" y1="681.8" x2="188" y2="673.55"/>
<line x1="179.75" y1="685.4" x2="188" y2="677.15"/>
<line x1="179.75" y1="689" x2="188" y2="680.75"/>
</g>
<line x1="193.5" y1="597" x2="193.5" y2="600.5" stroke="#474747" stroke-width="1.1" stroke-linecap="butt"/>
<line x1="191.47" y1="597.5" x2="195.28" y2="597.5" stroke="#474747" stroke-width="1.2" stroke-linecap="butt"/>
<clipPath id="hc2"><rect x="190.25" y="600" width="6.25" height="82.75"/></clipPath>
<g clip-path="url(#hc2)" stroke="#222" stroke-width="1.35">
<line x1="189.25" y1="599" x2="197.5" y2="590.75"/>
<line x1="189.25" y1="602.6" x2="197.5" y2="594.35"/>
<line x1="189.25" y1="606.2" x2="197.5" y2="597.95"/>
<line x1="189.25" y1="609.8" x2="197.5" y2="601.55"/>
<line x1="189.25" y1="613.4" x2="197.5" y2="605.15"/>
<line x1="189.25" y1="617" x2="197.5" y2="608.75"/>
<line x1="189.25" y1="620.6" x2="197.5" y2="612.35"/>
<line x1="189.25" y1="624.2" x2="197.5" y2="615.95"/>
<line x1="189.25" y1="627.8" x2="197.5" y2="619.55"/>
<line x1="189.25" y1="631.4" x2="197.5" y2="623.15"/>
<line x1="189.25" y1="635" x2="197.5" y2="626.75"/>
<line x1="189.25" y1="638.6" x2="197.5" y2="630.35"/>
<line x1="189.25" y1="642.2" x2="197.5" y2="633.95"/>
<line x1="189.25" y1="645.8" x2="197.5" y2="637.55"/>
<line x1="189.25" y1="649.4" x2="197.5" y2="641.15"/>
<line x1="189.25" y1="653" x2="197.5" y2="644.75"/>
<line x1="189.25" y1="656.6" x2="197.5" y2="648.35"/>
<line x1="189.25" y1="660.2" x2="197.5" y2="651.95"/>
<line x1="189.25" y1="663.8" x2="197.5" y2="655.55"/>
<line x1="189.25" y1="667.4" x2="197.5" y2="659.15"/>
<line x1="189.25" y1="671" x2="197.5" y2="662.75"/>
<line x1="189.25" y1="674.6" x2="197.5" y2="666.35"/>
<line x1="189.25" y1="678.2" x2="197.5" y2="669.95"/>
<line x1="189.25" y1="681.8" x2="197.5" y2="673.55"/>
<line x1="189.25" y1="685.4" x2="197.5" y2="677.15"/>
<line x1="189.25" y1="689" x2="197.5" y2="680.75"/>
</g>
<path d="M104.5 622 V619.5 H117.5 V622" fill="none" stroke="#474747" stroke-width="1.2"/>
<text x="111.25" y="617.2" font-size="6.1" text-anchor="middle" fill="#666" class="t">ns</text>
<path d="M130.5 625 V622.5 H143.5 V625" fill="none" stroke="#474747" stroke-width="1.2"/>
<text x="137" y="619.95" font-size="6.1" text-anchor="middle" fill="#666" class="t">ns</text>
<path d="M156.5 593 V590.5 H169.5 V593" fill="none" stroke="#474747" stroke-width="1.2"/>
<text x="163" y="587.2" font-size="6.1" text-anchor="middle" fill="#666" class="t">ns</text>
<path d="M182.5 595 V592.5 H195.5 V595" fill="none" stroke="#474747" stroke-width="1.2"/>
<text x="188.75" y="589.7" font-size="6.1" text-anchor="middle" fill="#666" class="t">ns</text>
<text transform="translate(50.3,636.9) rotate(-90)" font-size="7.8" text-anchor="middle" fill="#444444" textLength="97.7" lengthAdjust="spacingAndGlyphs">% of CD4+ T cell proliferation</text>
<text x="26.25" y="697.8" font-size="6.4" text-anchor="start" fill="#444444" textLength="48.2" lengthAdjust="spacingAndGlyphs">CTLA-4 Blocking</text>
<line x1="114.25" y1="696.25" x2="117.25" y2="696.25" stroke="#333" stroke-width="0.94" stroke-linecap="butt"/>
<line x1="115.75" y1="694.75" x2="115.75" y2="697.75" stroke="#333" stroke-width="0.94" stroke-linecap="butt"/>
<line x1="139.75" y1="696.25" x2="142.75" y2="696.25" stroke="#333" stroke-width="0.94" stroke-linecap="butt"/>
<line x1="141.25" y1="694.75" x2="141.25" y2="697.75" stroke="#333" stroke-width="0.94" stroke-linecap="butt"/>
<line x1="165.5" y1="696.25" x2="168.5" y2="696.25" stroke="#333" stroke-width="0.94" stroke-linecap="butt"/>
<line x1="167" y1="694.75" x2="167" y2="697.75" stroke="#333" stroke-width="0.94" stroke-linecap="butt"/>
<line x1="191.5" y1="696.25" x2="194.5" y2="696.25" stroke="#333" stroke-width="0.94" stroke-linecap="butt"/>
<line x1="193" y1="694.75" x2="193" y2="697.75" stroke="#333" stroke-width="0.94" stroke-linecap="butt"/>
<rect x="218.25" y="587.5" width="11.25" height="4.6" fill="#1f1f1f"/>
<text x="233" y="591.6" font-size="5.7" text-anchor="start" fill="#333" textLength="36" lengthAdjust="spacingAndGlyphs">Positive control</text>
<rect x="218.25" y="597.7" width="11.25" height="4.6" fill="#5f5f5f"/>
<text x="233" y="601.8" font-size="5.7" text-anchor="start" fill="#333" textLength="27.7" lengthAdjust="spacingAndGlyphs">Transitional</text>
<rect x="218.25" y="607.9" width="11.25" height="4.6" fill="#9b9b9b"/>
<text x="233" y="612" font-size="5.7" text-anchor="start" fill="#333" textLength="47" lengthAdjust="spacingAndGlyphs">IgM Memory B cells</text>
<rect x="218.25" y="618.1" width="11.25" height="4.6" fill="#d3d3d3"/>
<text x="233" y="622.2" font-size="5.7" text-anchor="start" fill="#333" textLength="31" lengthAdjust="spacingAndGlyphs">Naive B cells</text>
<line x1="218.6" y1="632.9" x2="221.2" y2="628.5" stroke="#2b2b2b" stroke-width="1.1" stroke-linecap="butt"/>
<line x1="221.5" y1="632.9" x2="224.1" y2="628.5" stroke="#2b2b2b" stroke-width="1.1" stroke-linecap="butt"/>
<line x1="224.4" y1="632.9" x2="227" y2="628.5" stroke="#2b2b2b" stroke-width="1.1" stroke-linecap="butt"/>
<line x1="227.3" y1="632.9" x2="229.9" y2="628.5" stroke="#2b2b2b" stroke-width="1.1" stroke-linecap="butt"/>
<text x="233" y="632.4" font-size="5.7" text-anchor="start" fill="#333" textLength="60" lengthAdjust="spacingAndGlyphs">Switched Memory B cells</text>
<text x="7.6" y="727.6" font-size="12" text-anchor="start" fill="#111" textLength="7.8" lengthAdjust="spacingAndGlyphs" font-weight="bold" class="b">D</text>
<line x1="67.5" y1="755.75" x2="67.5" y2="840.25" stroke="#474747" stroke-width="1" stroke-linecap="butt"/>
<line x1="67" y1="839.5" x2="191.5" y2="839.5" stroke="#474747" stroke-width="1" stroke-linecap="butt"/>
<line x1="63.8" y1="757.5" x2="67.5" y2="757.5" stroke="#474747" stroke-width="1" stroke-linecap="butt"/>
<text x="61.3" y="760.16" font-size="6.7" text-anchor="end" fill="#444444">40</text>
<line x1="63.8" y1="777.5" x2="67.5" y2="777.5" stroke="#474747" stroke-width="1" stroke-linecap="butt"/>
<text x="61.3" y="780.77" font-size="6.7" text-anchor="end" fill="#444444">30</text>
<line x1="63.8" y1="798.5" x2="67.5" y2="798.5" stroke="#474747" stroke-width="1" stroke-linecap="butt"/>
<text x="61.3" y="801.39" font-size="6.7" text-anchor="end" fill="#444444">20</text>
<line x1="63.8" y1="819.5" x2="67.5" y2="819.5" stroke="#474747" stroke-width="1" stroke-linecap="butt"/>
<text x="61.3" y="822" font-size="6.7" text-anchor="end" fill="#444444">10</text>
<line x1="63.8" y1="839.5" x2="67.5" y2="839.5" stroke="#474747" stroke-width="1" stroke-linecap="butt"/>
<text x="61.3" y="842.61" font-size="6.7" text-anchor="end" fill="#444444">0</text>
<line x1="76.5" y1="839.75" x2="76.5" y2="842.15" stroke="#474747" stroke-width="1" stroke-linecap="butt"/>
<line x1="94.5" y1="839.75" x2="94.5" y2="842.15" stroke="#474747" stroke-width="1" stroke-linecap="butt"/>
<line x1="111.5" y1="839.75" x2="111.5" y2="842.15" stroke="#474747" stroke-width="1" stroke-linecap="butt"/>
<line x1="129.5" y1="839.75" x2="129.5" y2="842.15" stroke="#474747" stroke-width="1" stroke-linecap="butt"/>
<line x1="146.5" y1="839.75" x2="146.5" y2="842.15" stroke="#474747" stroke-width="1" stroke-linecap="butt"/>
<line x1="164.5" y1="839.75" x2="164.5" y2="842.15" stroke="#474747" stroke-width="1" stroke-linecap="butt"/>
<line x1="182.5" y1="839.75" x2="182.5" y2="842.15" stroke="#474747" stroke-width="1" stroke-linecap="butt"/>
<line x1="76.5" y1="779.5" x2="76.5" y2="791" stroke="#474747" stroke-width="1.1" stroke-linecap="butt"/>
<line x1="72.88" y1="780.5" x2="79.88" y2="780.5" stroke="#474747" stroke-width="1.2" stroke-linecap="butt"/>
<rect x="71" y="790.5" width="10.75" height="49.25" fill="#5f5f5f"/>
<line x1="93.5" y1="801.5" x2="93.5" y2="811.5" stroke="#474747" stroke-width="1.1" stroke-linecap="butt"/>
<line x1="90.38" y1="802.5" x2="97.38" y2="802.5" stroke="#474747" stroke-width="1.2" stroke-linecap="butt"/>
<rect x="88.5" y="811" width="10.75" height="28.75" fill="#5f5f5f"/>
<line x1="111.5" y1="797.75" x2="111.5" y2="802.25" stroke="#474747" stroke-width="1.1" stroke-linecap="butt"/>
<line x1="108" y1="798.5" x2="115" y2="798.5" stroke="#474747" stroke-width="1.2" stroke-linecap="butt"/>
<rect x="106" y="801.75" width="11" height="38" fill="#5f5f5f"/>
<line x1="129.5" y1="798.5" x2="129.5" y2="810.75" stroke="#474747" stroke-width="1.1" stroke-linecap="butt"/>
<line x1="125.55" y1="799.5" x2="132.55" y2="799.5" stroke="#474747" stroke-width="1.2" stroke-linecap="butt"/>
<rect x="123.5" y="810.25" width="11.1" height="29.5" fill="#5f5f5f"/>
<line x1="146.5" y1="813" x2="146.5" y2="819" stroke="#474747" stroke-width="1.1" stroke-linecap="butt"/>
<line x1="143" y1="813.5" x2="150" y2="813.5" stroke="#474747" stroke-width="1.2" stroke-linecap="butt"/>
<rect x="141" y="818.5" width="11" height="21.25" fill="#5f5f5f"/>
<line x1="164.5" y1="814" x2="164.5" y2="822" stroke="#474747" stroke-width="1.1" stroke-linecap="butt"/>
<line x1="160.75" y1="814.5" x2="167.75" y2="814.5" stroke="#474747" stroke-width="1.2" stroke-linecap="butt"/>
<rect x="158.75" y="821.5" width="11" height="18.25" fill="#5f5f5f"/>
<line x1="181.5" y1="824.5" x2="181.5" y2="829.5" stroke="#474747" stroke-width="1.1" stroke-linecap="butt"/>
<line x1="178.38" y1="825.5" x2="185.38" y2="825.5" stroke="#474747" stroke-width="1.2" stroke-linecap="butt"/>
<rect x="176.25" y="829" width="11.25" height="10.75" fill="#5f5f5f"/>
<text x="90" y="724.8" font-size="8.6" text-anchor="start" fill="#111" font-weight="bold" class="b">Total CD19<tspan font-size="5.5" dy="-3">+</tspan><tspan dy="3"> B Cells</tspan></text>
<text transform="translate(48.9,797) rotate(-90)" font-size="7.8" text-anchor="middle" fill="#444444" textLength="98" lengthAdjust="spacingAndGlyphs">% of CD4 T cell suppression</text>
<line x1="75.5" y1="852.9" x2="77" y2="852.9" stroke="#777" stroke-width="0.8" stroke-linecap="butt"/>
<line x1="92.5" y1="852.9" x2="95.5" y2="852.9" stroke="#333" stroke-width="0.94" stroke-linecap="butt"/>
<line x1="94" y1="851.4" x2="94" y2="854.4" stroke="#333" stroke-width="0.94" stroke-linecap="butt"/>
<line x1="110.75" y1="852.9" x2="112.25" y2="852.9" stroke="#777" stroke-width="0.8" stroke-linecap="butt"/>
<line x1="128.25" y1="852.9" x2="129.75" y2="852.9" stroke="#777" stroke-width="0.8" stroke-linecap="butt"/>
<line x1="145" y1="852.9" x2="148" y2="852.9" stroke="#333" stroke-width="0.94" stroke-linecap="butt"/>
<line x1="146.5" y1="851.4" x2="146.5" y2="854.4" stroke="#333" stroke-width="0.94" stroke-linecap="butt"/>
<line x1="162.75" y1="852.9" x2="165.75" y2="852.9" stroke="#333" stroke-width="0.94" stroke-linecap="butt"/>
<line x1="164.25" y1="851.4" x2="164.25" y2="854.4" stroke="#333" stroke-width="0.94" stroke-linecap="butt"/>
<line x1="180.5" y1="852.9" x2="183.5" y2="852.9" stroke="#333" stroke-width="0.94" stroke-linecap="butt"/>
<line x1="182" y1="851.4" x2="182" y2="854.4" stroke="#333" stroke-width="0.94" stroke-linecap="butt"/>
<line x1="75.5" y1="862.6" x2="77" y2="862.6" stroke="#777" stroke-width="0.8" stroke-linecap="butt"/>
<line x1="93.25" y1="862.6" x2="94.75" y2="862.6" stroke="#777" stroke-width="0.8" stroke-linecap="butt"/>
<line x1="110" y1="862.6" x2="113" y2="862.6" stroke="#333" stroke-width="0.94" stroke-linecap="butt"/>
<line x1="111.5" y1="861.1" x2="111.5" y2="864.1" stroke="#333" stroke-width="0.94" stroke-linecap="butt"/>
<line x1="128.25" y1="862.6" x2="129.75" y2="862.6" stroke="#777" stroke-width="0.8" stroke-linecap="butt"/>
<line x1="145" y1="862.6" x2="148" y2="862.6" stroke="#333" stroke-width="0.94" stroke-linecap="butt"/>
<line x1="146.5" y1="861.1" x2="146.5" y2="864.1" stroke="#333" stroke-width="0.94" stroke-linecap="butt"/>
<line x1="163.5" y1="862.6" x2="165" y2="862.6" stroke="#777" stroke-width="0.8" stroke-linecap="butt"/>
<line x1="180.5" y1="862.6" x2="183.5" y2="862.6" stroke="#333" stroke-width="0.94" stroke-linecap="butt"/>
<line x1="182" y1="861.1" x2="182" y2="864.1" stroke="#333" stroke-width="0.94" stroke-linecap="butt"/>
<line x1="75.5" y1="873" x2="77" y2="873" stroke="#777" stroke-width="0.8" stroke-linecap="butt"/>
<line x1="93.25" y1="873" x2="94.75" y2="873" stroke="#777" stroke-width="0.8" stroke-linecap="butt"/>
<line x1="110.75" y1="873" x2="112.25" y2="873" stroke="#777" stroke-width="0.8" stroke-linecap="butt"/>
<line x1="127.5" y1="873" x2="130.5" y2="873" stroke="#333" stroke-width="0.94" stroke-linecap="butt"/>
<line x1="129" y1="871.5" x2="129" y2="874.5" stroke="#333" stroke-width="0.94" stroke-linecap="butt"/>
<line x1="145.75" y1="873" x2="147.25" y2="873" stroke="#777" stroke-width="0.8" stroke-linecap="butt"/>
<line x1="162.75" y1="873" x2="165.75" y2="873" stroke="#333" stroke-width="0.94" stroke-linecap="butt"/>
<line x1="164.25" y1="871.5" x2="164.25" y2="874.5" stroke="#333" stroke-width="0.94" stroke-linecap="butt"/>
<line x1="180.5" y1="873" x2="183.5" y2="873" stroke="#333" stroke-width="0.94" stroke-linecap="butt"/>
<line x1="182" y1="871.5" x2="182" y2="874.5" stroke="#333" stroke-width="0.94" stroke-linecap="butt"/>
<path d="M78.5 761 V758.5 H184.5 V761" fill="none" stroke="#474747" stroke-width="1.2"/>
<circle cx="131" cy="753" r="1.1" fill="#333"/>
<path d="M112.5 770 V767.5 H184.5 V770" fill="none" stroke="#474747" stroke-width="1.2"/>
<circle cx="148.5" cy="762" r="1.1" fill="#333"/>
<path d="M133.5 778 V775.5 H184.5 V778" fill="none" stroke="#474747" stroke-width="1.2"/>
<circle cx="158.25" cy="770.5" r="1.1" fill="#333"/>
<path d="M97.5 784.1 V781.5 H127.5 V784.1" fill="none" stroke="#474747" stroke-width="1.2"/>
<text x="113" y="778.2" font-size="6.1" text-anchor="middle" fill="#666" class="t">ns</text>
<path d="M97.5 793 V790.5 H110.5 V793" fill="none" stroke="#474747" stroke-width="1.2"/>
<text x="103" y="787.95" font-size="6.1" text-anchor="middle" fill="#666" class="t">ns</text>
<path d="M114.5 793 V790.5 H127.5 V793" fill="none" stroke="#474747" stroke-width="1.2"/>
<text x="120.75" y="787.95" font-size="6.1" text-anchor="middle" fill="#666" class="t">ns</text>
<text x="7.5" y="854.6" font-size="6.4" text-anchor="start" fill="#444444" textLength="53.2" lengthAdjust="spacingAndGlyphs">IL-10/IL-10R mAbs</text>
<text x="7.5" y="864.7" font-size="6.4" text-anchor="start" fill="#444444" textLength="60.5" lengthAdjust="spacingAndGlyphs">CD80/CD86 Blocking</text>
<text x="7.5" y="875.1" font-size="6.4" text-anchor="start" fill="#444444" textLength="47.5" lengthAdjust="spacingAndGlyphs">CTLA-4 Blocking</text>
<line x1="225.5" y1="755.75" x2="225.5" y2="840.25" stroke="#474747" stroke-width="1" stroke-linecap="butt"/>
<line x1="224.5" y1="839.5" x2="350.5" y2="839.5" stroke="#474747" stroke-width="1" stroke-linecap="butt"/>
<line x1="221.3" y1="757.5" x2="225" y2="757.5" stroke="#474747" stroke-width="1" stroke-linecap="butt"/>
<text x="219.6" y="760.16" font-size="6.7" text-anchor="end" fill="#444444">40</text>
<line x1="221.3" y1="777.5" x2="225" y2="777.5" stroke="#474747" stroke-width="1" stroke-linecap="butt"/>
<text x="219.6" y="780.77" font-size="6.7" text-anchor="end" fill="#444444">30</text>
<line x1="221.3" y1="798.5" x2="225" y2="798.5" stroke="#474747" stroke-width="1" stroke-linecap="butt"/>
<text x="219.6" y="801.39" font-size="6.7" text-anchor="end" fill="#444444">20</text>
<line x1="221.3" y1="819.5" x2="225" y2="819.5" stroke="#474747" stroke-width="1" stroke-linecap="butt"/>
<text x="219.6" y="822" font-size="6.7" text-anchor="end" fill="#444444">10</text>
<line x1="221.3" y1="839.5" x2="225" y2="839.5" stroke="#474747" stroke-width="1" stroke-linecap="butt"/>
<text x="219.6" y="842.61" font-size="6.7" text-anchor="end" fill="#444444">0</text>
<line x1="235.5" y1="839.75" x2="235.5" y2="842.15" stroke="#474747" stroke-width="1" stroke-linecap="butt"/>
<line x1="252.5" y1="839.75" x2="252.5" y2="842.15" stroke="#474747" stroke-width="1" stroke-linecap="butt"/>
<line x1="271.5" y1="839.75" x2="271.5" y2="842.15" stroke="#474747" stroke-width="1" stroke-linecap="butt"/>
<line x1="288.5" y1="839.75" x2="288.5" y2="842.15" stroke="#474747" stroke-width="1" stroke-linecap="butt"/>
<line x1="306.5" y1="839.75" x2="306.5" y2="842.15" stroke="#474747" stroke-width="1" stroke-linecap="butt"/>
<line x1="323.5" y1="839.75" x2="323.5" y2="842.15" stroke="#474747" stroke-width="1" stroke-linecap="butt"/>
<line x1="341.5" y1="839.75" x2="341.5" y2="842.15" stroke="#474747" stroke-width="1" stroke-linecap="butt"/>
<line x1="235.5" y1="760.5" x2="235.5" y2="769.75" stroke="#474747" stroke-width="1.1" stroke-linecap="butt"/>
<line x1="231.5" y1="761.5" x2="238.5" y2="761.5" stroke="#474747" stroke-width="1.2" stroke-linecap="butt"/>
<rect x="229.5" y="769.25" width="11" height="70.5" fill="#9b9b9b"/>
<line x1="252.5" y1="799.5" x2="252.5" y2="806.5" stroke="#474747" stroke-width="1.1" stroke-linecap="butt"/>
<line x1="249" y1="800.5" x2="256" y2="800.5" stroke="#474747" stroke-width="1.2" stroke-linecap="butt"/>
<rect x="247" y="806" width="11" height="33.75" fill="#9b9b9b"/>
<line x1="271.5" y1="783.75" x2="271.5" y2="795" stroke="#474747" stroke-width="1.1" stroke-linecap="butt"/>
<line x1="267.5" y1="784.5" x2="274.5" y2="784.5" stroke="#474747" stroke-width="1.2" stroke-linecap="butt"/>
<rect x="265.5" y="794.5" width="11" height="45.25" fill="#9b9b9b"/>
<line x1="288.5" y1="785.75" x2="288.5" y2="798" stroke="#474747" stroke-width="1.1" stroke-linecap="butt"/>
<line x1="285" y1="786.5" x2="292" y2="786.5" stroke="#474747" stroke-width="1.2" stroke-linecap="butt"/>
<rect x="283" y="797.5" width="11" height="42.25" fill="#9b9b9b"/>
<line x1="306.5" y1="810.5" x2="306.5" y2="815.75" stroke="#474747" stroke-width="1.1" stroke-linecap="butt"/>
<line x1="302.5" y1="811.5" x2="309.5" y2="811.5" stroke="#474747" stroke-width="1.2" stroke-linecap="butt"/>
<rect x="300.5" y="815.25" width="11" height="24.5" fill="#9b9b9b"/>
<line x1="323.5" y1="806.5" x2="323.5" y2="815.5" stroke="#474747" stroke-width="1.1" stroke-linecap="butt"/>
<line x1="320.12" y1="807.5" x2="327.12" y2="807.5" stroke="#474747" stroke-width="1.2" stroke-linecap="butt"/>
<rect x="318" y="815" width="11.25" height="24.75" fill="#9b9b9b"/>
<line x1="341.5" y1="824.5" x2="341.5" y2="829.5" stroke="#474747" stroke-width="1.1" stroke-linecap="butt"/>
<line x1="337.88" y1="825.5" x2="344.88" y2="825.5" stroke="#474747" stroke-width="1.2" stroke-linecap="butt"/>
<rect x="335.75" y="829" width="11.25" height="10.75" fill="#9b9b9b"/>
<text x="248.5" y="724.8" font-size="8.6" text-anchor="start" fill="#111" textLength="79.5" lengthAdjust="spacingAndGlyphs" font-weight="bold" class="b">Transitional B Cells</text>
<text transform="translate(207.9,797) rotate(-90)" font-size="7.8" text-anchor="middle" fill="#444444" textLength="98" lengthAdjust="spacingAndGlyphs">% of CD4 T cell suppression</text>
<line x1="234.25" y1="852.9" x2="235.75" y2="852.9" stroke="#777" stroke-width="0.8" stroke-linecap="butt"/>
<line x1="251" y1="852.9" x2="254" y2="852.9" stroke="#333" stroke-width="0.94" stroke-linecap="butt"/>
<line x1="252.5" y1="851.4" x2="252.5" y2="854.4" stroke="#333" stroke-width="0.94" stroke-linecap="butt"/>
<line x1="270.25" y1="852.9" x2="271.75" y2="852.9" stroke="#777" stroke-width="0.8" stroke-linecap="butt"/>
<line x1="287.75" y1="852.9" x2="289.25" y2="852.9" stroke="#777" stroke-width="0.8" stroke-linecap="butt"/>
<line x1="304.5" y1="852.9" x2="307.5" y2="852.9" stroke="#333" stroke-width="0.94" stroke-linecap="butt"/>
<line x1="306" y1="851.4" x2="306" y2="854.4" stroke="#333" stroke-width="0.94" stroke-linecap="butt"/>
<line x1="322" y1="852.9" x2="325" y2="852.9" stroke="#333" stroke-width="0.94" stroke-linecap="butt"/>
<line x1="323.5" y1="851.4" x2="323.5" y2="854.4" stroke="#333" stroke-width="0.94" stroke-linecap="butt"/>
<line x1="339.75" y1="852.9" x2="342.75" y2="852.9" stroke="#333" stroke-width="0.94" stroke-linecap="butt"/>
<line x1="341.25" y1="851.4" x2="341.25" y2="854.4" stroke="#333" stroke-width="0.94" stroke-linecap="butt"/>
<line x1="234.25" y1="862.6" x2="235.75" y2="862.6" stroke="#777" stroke-width="0.8" stroke-linecap="butt"/>
<line x1="251.75" y1="862.6" x2="253.25" y2="862.6" stroke="#777" stroke-width="0.8" stroke-linecap="butt"/>
<line x1="269.5" y1="862.6" x2="272.5" y2="862.6" stroke="#333" stroke-width="0.94" stroke-linecap="butt"/>
<line x1="271" y1="861.1" x2="271" y2="864.1" stroke="#333" stroke-width="0.94" stroke-linecap="butt"/>
<line x1="287.75" y1="862.6" x2="289.25" y2="862.6" stroke="#777" stroke-width="0.8" stroke-linecap="butt"/>
<line x1="304.5" y1="862.6" x2="307.5" y2="862.6" stroke="#333" stroke-width="0.94" stroke-linecap="butt"/>
<line x1="306" y1="861.1" x2="306" y2="864.1" stroke="#333" stroke-width="0.94" stroke-linecap="butt"/>
<line x1="322.75" y1="862.6" x2="324.25" y2="862.6" stroke="#777" stroke-width="0.8" stroke-linecap="butt"/>
<line x1="339.75" y1="862.6" x2="342.75" y2="862.6" stroke="#333" stroke-width="0.94" stroke-linecap="butt"/>
<line x1="341.25" y1="861.1" x2="341.25" y2="864.1" stroke="#333" stroke-width="0.94" stroke-linecap="butt"/>
<line x1="234.25" y1="873" x2="235.75" y2="873" stroke="#777" stroke-width="0.8" stroke-linecap="butt"/>
<line x1="251.75" y1="873" x2="253.25" y2="873" stroke="#777" stroke-width="0.8" stroke-linecap="butt"/>
<line x1="270.25" y1="873" x2="271.75" y2="873" stroke="#777" stroke-width="0.8" stroke-linecap="butt"/>
<line x1="287" y1="873" x2="290" y2="873" stroke="#333" stroke-width="0.94" stroke-linecap="butt"/>
<line x1="288.5" y1="871.5" x2="288.5" y2="874.5" stroke="#333" stroke-width="0.94" stroke-linecap="butt"/>
<line x1="305.25" y1="873" x2="306.75" y2="873" stroke="#777" stroke-width="0.8" stroke-linecap="butt"/>
<line x1="322" y1="873" x2="325" y2="873" stroke="#333" stroke-width="0.94" stroke-linecap="butt"/>
<line x1="323.5" y1="871.5" x2="323.5" y2="874.5" stroke="#333" stroke-width="0.94" stroke-linecap="butt"/>
<line x1="339.75" y1="873" x2="342.75" y2="873" stroke="#333" stroke-width="0.94" stroke-linecap="butt"/>
<line x1="341.25" y1="871.5" x2="341.25" y2="874.5" stroke="#333" stroke-width="0.94" stroke-linecap="butt"/>
<path d="M235.5 744 V741.5 H342.5 V744" fill="none" stroke="#474747" stroke-width="1.2"/>
<circle cx="287.45" cy="736.75" r="1.1" fill="#333"/>
<circle cx="290.05" cy="736.75" r="1.1" fill="#333"/>
<path d="M270.5 753 V750.5 H342.5 V753" fill="none" stroke="#474747" stroke-width="1.2"/>
<circle cx="306.25" cy="745" r="1.1" fill="#333"/>
<path d="M289.5 760 V757.5 H342.5 V760" fill="none" stroke="#474747" stroke-width="1.2"/>
<circle cx="317" cy="753" r="1.1" fill="#333"/>
<path d="M256.5 771 V768.5 H289.5 V771" fill="none" stroke="#474747" stroke-width="1.2"/>
<text x="272.5" y="764.95" font-size="6.1" text-anchor="middle" fill="#666" class="t">ns</text>
<path d="M256.5 780 V777.5 H269.5 V780" fill="none" stroke="#474747" stroke-width="1.2"/>
<text x="263" y="774.45" font-size="6.1" text-anchor="middle" fill="#666" class="t">ns</text>
<path d="M275.5 780 V777.5 H286.5 V780" fill="none" stroke="#474747" stroke-width="1.2"/>
<text x="280.5" y="774.45" font-size="6.1" text-anchor="middle" fill="#666" class="t">ns</text>
<line x1="384.5" y1="755.75" x2="384.5" y2="840.25" stroke="#474747" stroke-width="1" stroke-linecap="butt"/>
<line x1="383.75" y1="839.5" x2="510" y2="839.5" stroke="#474747" stroke-width="1" stroke-linecap="butt"/>
<line x1="380.55" y1="757.5" x2="384.25" y2="757.5" stroke="#474747" stroke-width="1" stroke-linecap="butt"/>
<text x="378.7" y="760.16" font-size="6.7" text-anchor="end" fill="#444444">40</text>
<line x1="380.55" y1="777.5" x2="384.25" y2="777.5" stroke="#474747" stroke-width="1" stroke-linecap="butt"/>
<text x="378.7" y="780.77" font-size="6.7" text-anchor="end" fill="#444444">30</text>
<line x1="380.55" y1="798.5" x2="384.25" y2="798.5" stroke="#474747" stroke-width="1" stroke-linecap="butt"/>
<text x="378.7" y="801.39" font-size="6.7" text-anchor="end" fill="#444444">20</text>
<line x1="380.55" y1="819.5" x2="384.25" y2="819.5" stroke="#474747" stroke-width="1" stroke-linecap="butt"/>
<text x="378.7" y="822" font-size="6.7" text-anchor="end" fill="#444444">10</text>
<line x1="380.55" y1="839.5" x2="384.25" y2="839.5" stroke="#474747" stroke-width="1" stroke-linecap="butt"/>
<text x="378.7" y="842.61" font-size="6.7" text-anchor="end" fill="#444444">0</text>
<line x1="394.5" y1="839.75" x2="394.5" y2="842.15" stroke="#474747" stroke-width="1" stroke-linecap="butt"/>
<line x1="412.5" y1="839.75" x2="412.5" y2="842.15" stroke="#474747" stroke-width="1" stroke-linecap="butt"/>
<line x1="429.5" y1="839.75" x2="429.5" y2="842.15" stroke="#474747" stroke-width="1" stroke-linecap="butt"/>
<line x1="447.5" y1="839.75" x2="447.5" y2="842.15" stroke="#474747" stroke-width="1" stroke-linecap="butt"/>
<line x1="465.5" y1="839.75" x2="465.5" y2="842.15" stroke="#474747" stroke-width="1" stroke-linecap="butt"/>
<line x1="482.5" y1="839.75" x2="482.5" y2="842.15" stroke="#474747" stroke-width="1" stroke-linecap="butt"/>
<line x1="500.5" y1="839.75" x2="500.5" y2="842.15" stroke="#474747" stroke-width="1" stroke-linecap="butt"/>
<line x1="394.5" y1="773.25" x2="394.5" y2="787.5" stroke="#474747" stroke-width="1.1" stroke-linecap="butt"/>
<line x1="391" y1="773.5" x2="398" y2="773.5" stroke="#474747" stroke-width="1.2" stroke-linecap="butt"/>
<rect x="389" y="787" width="11" height="52.75" fill="#d3d3d3"/>
<line x1="412.5" y1="795" x2="412.5" y2="802.5" stroke="#474747" stroke-width="1.1" stroke-linecap="butt"/>
<line x1="408.62" y1="795.5" x2="415.62" y2="795.5" stroke="#474747" stroke-width="1.2" stroke-linecap="butt"/>
<rect x="406.5" y="802" width="11.25" height="37.75" fill="#d3d3d3"/>
<line x1="429.5" y1="787" x2="429.5" y2="799.75" stroke="#474747" stroke-width="1.1" stroke-linecap="butt"/>
<line x1="426.25" y1="787.5" x2="433.25" y2="787.5" stroke="#474747" stroke-width="1.2" stroke-linecap="butt"/>
<rect x="424" y="799.25" width="11.5" height="40.5" fill="#d3d3d3"/>
<line x1="447.5" y1="791.25" x2="447.5" y2="799" stroke="#474747" stroke-width="1.1" stroke-linecap="butt"/>
<line x1="443.88" y1="791.5" x2="450.88" y2="791.5" stroke="#474747" stroke-width="1.2" stroke-linecap="butt"/>
<rect x="441.75" y="798.5" width="11.25" height="41.25" fill="#d3d3d3"/>
<line x1="464.5" y1="807.5" x2="464.5" y2="813.75" stroke="#474747" stroke-width="1.1" stroke-linecap="butt"/>
<line x1="461.38" y1="808.5" x2="468.38" y2="808.5" stroke="#474747" stroke-width="1.2" stroke-linecap="butt"/>
<rect x="459.25" y="813.25" width="11.25" height="26.5" fill="#d3d3d3"/>
<line x1="482.5" y1="805.25" x2="482.5" y2="813" stroke="#474747" stroke-width="1.1" stroke-linecap="butt"/>
<line x1="479.12" y1="805.5" x2="486.12" y2="805.5" stroke="#474747" stroke-width="1.2" stroke-linecap="butt"/>
<rect x="477" y="812.5" width="11.25" height="27.25" fill="#d3d3d3"/>
<line x1="500.5" y1="818.75" x2="500.5" y2="825" stroke="#474747" stroke-width="1.1" stroke-linecap="butt"/>
<line x1="496.88" y1="819.5" x2="503.88" y2="819.5" stroke="#474747" stroke-width="1.2" stroke-linecap="butt"/>
<rect x="494.75" y="824.5" width="11.25" height="15.25" fill="#d3d3d3"/>
<text x="421" y="724.8" font-size="8.6" text-anchor="start" fill="#111" textLength="53" lengthAdjust="spacingAndGlyphs" font-weight="bold" class="b">Naïve B cells</text>
<text transform="translate(367.4,797) rotate(-90)" font-size="7.8" text-anchor="middle" fill="#444444" textLength="98" lengthAdjust="spacingAndGlyphs">% of CD4 T cell suppression</text>
<line x1="393.75" y1="852.9" x2="395.25" y2="852.9" stroke="#777" stroke-width="0.8" stroke-linecap="butt"/>
<line x1="410.5" y1="852.9" x2="413.5" y2="852.9" stroke="#333" stroke-width="0.94" stroke-linecap="butt"/>
<line x1="412" y1="851.4" x2="412" y2="854.4" stroke="#333" stroke-width="0.94" stroke-linecap="butt"/>
<line x1="429" y1="852.9" x2="430.5" y2="852.9" stroke="#777" stroke-width="0.8" stroke-linecap="butt"/>
<line x1="446.75" y1="852.9" x2="448.25" y2="852.9" stroke="#777" stroke-width="0.8" stroke-linecap="butt"/>
<line x1="463.5" y1="852.9" x2="466.5" y2="852.9" stroke="#333" stroke-width="0.94" stroke-linecap="butt"/>
<line x1="465" y1="851.4" x2="465" y2="854.4" stroke="#333" stroke-width="0.94" stroke-linecap="butt"/>
<line x1="481.25" y1="852.9" x2="484.25" y2="852.9" stroke="#333" stroke-width="0.94" stroke-linecap="butt"/>
<line x1="482.75" y1="851.4" x2="482.75" y2="854.4" stroke="#333" stroke-width="0.94" stroke-linecap="butt"/>
<line x1="499" y1="852.9" x2="502" y2="852.9" stroke="#333" stroke-width="0.94" stroke-linecap="butt"/>
<line x1="500.5" y1="851.4" x2="500.5" y2="854.4" stroke="#333" stroke-width="0.94" stroke-linecap="butt"/>
<line x1="393.75" y1="862.6" x2="395.25" y2="862.6" stroke="#777" stroke-width="0.8" stroke-linecap="butt"/>
<line x1="411.25" y1="862.6" x2="412.75" y2="862.6" stroke="#777" stroke-width="0.8" stroke-linecap="butt"/>
<line x1="428.25" y1="862.6" x2="431.25" y2="862.6" stroke="#333" stroke-width="0.94" stroke-linecap="butt"/>
<line x1="429.75" y1="861.1" x2="429.75" y2="864.1" stroke="#333" stroke-width="0.94" stroke-linecap="butt"/>
<line x1="446.75" y1="862.6" x2="448.25" y2="862.6" stroke="#777" stroke-width="0.8" stroke-linecap="butt"/>
<line x1="463.5" y1="862.6" x2="466.5" y2="862.6" stroke="#333" stroke-width="0.94" stroke-linecap="butt"/>
<line x1="465" y1="861.1" x2="465" y2="864.1" stroke="#333" stroke-width="0.94" stroke-linecap="butt"/>
<line x1="482" y1="862.6" x2="483.5" y2="862.6" stroke="#777" stroke-width="0.8" stroke-linecap="butt"/>
<line x1="499" y1="862.6" x2="502" y2="862.6" stroke="#333" stroke-width="0.94" stroke-linecap="butt"/>
<line x1="500.5" y1="861.1" x2="500.5" y2="864.1" stroke="#333" stroke-width="0.94" stroke-linecap="butt"/>
<line x1="393.75" y1="873" x2="395.25" y2="873" stroke="#777" stroke-width="0.8" stroke-linecap="butt"/>
<line x1="411.25" y1="873" x2="412.75" y2="873" stroke="#777" stroke-width="0.8" stroke-linecap="butt"/>
<line x1="429" y1="873" x2="430.5" y2="873" stroke="#777" stroke-width="0.8" stroke-linecap="butt"/>
<line x1="446" y1="873" x2="449" y2="873" stroke="#333" stroke-width="0.94" stroke-linecap="butt"/>
<line x1="447.5" y1="871.5" x2="447.5" y2="874.5" stroke="#333" stroke-width="0.94" stroke-linecap="butt"/>
<line x1="464.25" y1="873" x2="465.75" y2="873" stroke="#777" stroke-width="0.8" stroke-linecap="butt"/>
<line x1="481.25" y1="873" x2="484.25" y2="873" stroke="#333" stroke-width="0.94" stroke-linecap="butt"/>
<line x1="482.75" y1="871.5" x2="482.75" y2="874.5" stroke="#333" stroke-width="0.94" stroke-linecap="butt"/>
<line x1="499" y1="873" x2="502" y2="873" stroke="#333" stroke-width="0.94" stroke-linecap="butt"/>
<line x1="500.5" y1="871.5" x2="500.5" y2="874.5" stroke="#333" stroke-width="0.94" stroke-linecap="butt"/>
<path d="M397.5 740 V737.5 H503.5 V740" fill="none" stroke="#474747" stroke-width="1.2"/>
<circle cx="450" cy="732.5" r="1.1" fill="#333"/>
<path d="M413.5 749 V746.5 H503.5 V749" fill="none" stroke="#474747" stroke-width="1.2"/>
<circle cx="458" cy="741.5" r="1.1" fill="#333"/>
<path d="M431.5 757 V754.5 H503.5 V757" fill="none" stroke="#474747" stroke-width="1.2"/>
<circle cx="467.5" cy="749.25" r="1.1" fill="#333"/>
<path d="M450.5 765 V762.5 H503.5 V765" fill="none" stroke="#474747" stroke-width="1.2"/>
<circle cx="478.5" cy="756.75" r="1.1" fill="#333"/>
<path d="M414.5 773 V770.5 H447.5 V773" fill="none" stroke="#474747" stroke-width="1.2"/>
<text x="430.5" y="767.7" font-size="6.1" text-anchor="middle" fill="#666" class="t">ns</text>
<path d="M414.5 783 V780.5 H427.5 V783" fill="none" stroke="#474747" stroke-width="1.2"/>
<text x="421" y="777.2" font-size="6.1" text-anchor="middle" fill="#666" class="t">ns</text>
<path d="M432.5 783 V780.5 H445.5 V783" fill="none" stroke="#474747" stroke-width="1.2"/>
<text x="438.25" y="777.2" font-size="6.1" text-anchor="middle" fill="#666" class="t">ns</text>
<rect x="0" y="0" width="520" height="1" fill="#666"/>
<rect x="0" y="0" width="1" height="883" fill="#666"/>
<rect x="519" y="0" width="1" height="883" fill="#3c3c3c"/>
<rect x="0" y="881" width="520" height="1" fill="#777"/>
<rect x="0" y="882" width="520" height="1" fill="#151515"/>
</svg>
</body></html>
